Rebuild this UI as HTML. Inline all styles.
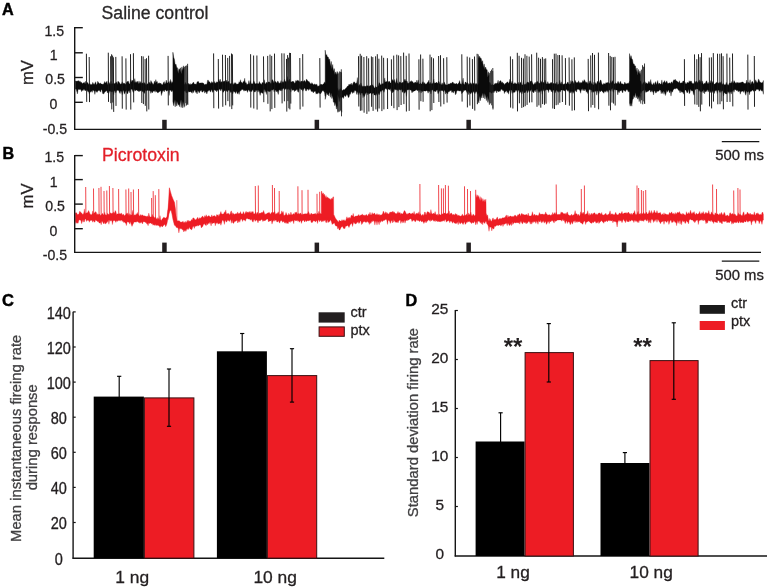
<!DOCTYPE html>
<html><head><meta charset="utf-8"><title>Figure</title>
<style>html,body{margin:0;padding:0;background:#fff;}body{width:767px;height:587px;overflow:hidden;}svg{display:block;will-change:transform;font-family:"Liberation Sans", sans-serif;}</style></head><body>
<svg width="767" height="587" viewBox="0 0 767 587">
<rect width="767" height="587" fill="#fff"/>
<text x="2" y="15.3" font-size="16.2" text-anchor="start" fill="#000" font-weight="bold" stroke="#000" stroke-width="0.45">A</text>
<text x="101.6" y="19" font-size="17.65" text-anchor="start" fill="#2a2829" font-weight="normal" stroke="#2a2829" stroke-width="0.3">Saline control</text>
<path d="M75.3 80.9L76 80.9L76.7 81.3L77.4 80.9L78.1 81.2L78.8 80.4L79.5 81.8L80.2 81.2L80.9 82.5L81.6 82.3L82.3 83.8L83 82.9L83.7 82.8L84.4 82.3L85.1 84L85.8 81.1L86.5 83.8L87.2 82.5L87.9 82.8L88.6 84.5L89.3 83.7L90 83.5L90.7 84.7L91.4 84.6L92.1 84.5L92.8 82.3L93.5 84L94.2 84.6L94.9 83.3L95.6 81.7L96.3 84.5L97 84.5L97.7 81.3L98.4 82.3L99.1 83.6L99.8 83.4L100.5 82.9L101.2 84.1L101.9 84.1L102.6 84.3L103.3 84.2L104 83.3L104.7 81.4L105.4 83L106.1 82.6L106.8 81.2L107.5 85.1L108.2 80.8L108.9 84.9L109.6 82.5L110.3 84.6L111 81.1L111.7 84.2L112.4 83.5L113.1 83.5L113.8 83.8L114.5 83.4L115.2 83.2L115.9 82.7L116.6 81.8L117.3 84.6L118 81.1L118.7 81.9L119.4 82.5L120.1 83.7L120.8 84.2L121.5 83.7L122.2 81.8L122.9 84.3L123.6 82.9L124.3 83.3L125 83.8L125.7 84.5L126.4 82.4L127.1 81.5L127.8 81.4L128.5 81.3L129.2 84.1L129.9 83.5L130.6 79.3L131.3 82.2L132 80L132.7 80.8L133.4 80.6L134.1 82.8L134.8 78.6L135.5 82.8L136.2 81.6L136.9 82.7L137.6 81.1L138.3 83.9L139 80.9L139.7 83.4L140.4 81.5L141.1 83.9L141.8 82.6L142.5 83.3L143.2 82.6L143.9 83.9L144.6 82.5L145.3 83.7L146 84.7L146.7 84.7L147.4 83.7L148.1 84L148.8 81.9L149.5 82.4L150.2 84L150.9 80.5L151.6 81.9L152.3 83.1L153 84.5L153.7 84.1L154.4 81.1L155.1 83.3L155.8 79.6L156.5 82.2L157.2 81.4L157.9 84.3L158.6 83L159.3 82.8L160 83.8L160.7 83L161.4 84.1L162.1 85L162.8 84.3L163.5 82.5L164.2 81.6L164.9 84.2L165.6 83.1L166.3 80.1L167 83L167.7 83.1L168.4 82.1L169.1 81.4L169.8 83.8L170.5 79.4L171.2 81.6L171.9 83.4L172.6 81.7L173.3 82.3L174 83.3L174.7 80.3L175.4 81.9L176.1 83.9L176.8 82.6L177.5 84.9L178.2 84.3L178.9 84.4L179.6 84.1L180.3 83.9L181 85L181.7 83.2L182.4 85.5L183.1 84L183.8 83.7L184.5 84.7L185.2 82.2L185.9 83.7L186.6 84.4L187.3 83L188 84.4L188.7 83.2L189.4 84.1L190.1 84.9L190.8 83.6L191.5 84.5L192.2 83.8L192.9 82.8L193.6 82.1L194.3 84.3L195 83.8L195.7 84.3L196.4 84.2L197.1 81.9L197.8 81.6L198.5 81.5L199.2 83.3L199.9 83.1L200.6 82.9L201.3 82.8L202 83.3L202.7 82.8L203.4 83.1L204.1 84.2L204.8 84.7L205.5 84.3L206.2 83.9L206.9 84.5L207.6 80.2L208.3 80.2L209 82.1L209.7 81.8L210.4 83.3L211.1 83.2L211.8 81.4L212.5 83L213.2 82L213.9 83.7L214.6 81.4L215.3 83.2L216 83.1L216.7 81.7L217.4 82.3L218.1 82L218.8 79.1L219.5 81.9L220.2 79.1L220.9 82.6L221.6 81.6L222.3 82.4L223 81L223.7 81.7L224.4 81.3L225.1 80.8L225.8 83.6L226.5 80.1L227.2 82.2L227.9 81.8L228.6 81.1L229.3 83L230 83.4L230.7 83.8L231.4 83.2L232.1 83.3L232.8 84.4L233.5 84.3L234.2 82.6L234.9 83.9L235.6 82.6L236.3 83.9L237 84.2L237.7 84L238.4 84L239.1 81.7L239.8 82.8L240.5 79.7L241.2 82.6L241.9 82.3L242.6 83.5L243.3 81.3L244 81.9L244.7 78.2L245.4 82.9L246.1 82.4L246.8 84.4L247.5 84.3L248.2 84L248.9 80.6L249.6 84.4L250.3 80.6L251 83L251.7 84.1L252.4 83.9L253.1 82.9L253.8 80.8L254.5 82.3L255.2 84L255.9 83.5L256.6 83.6L257.3 83.4L258 83.7L258.7 83.7L259.4 81.5L260.1 83.2L260.8 83.7L261.5 84.4L262.2 82.4L262.9 82.8L263.6 83.4L264.3 79.7L265 83.8L265.7 83.7L266.4 82.1L267.1 83.6L267.8 82.5L268.5 81.8L269.2 82.1L269.9 82.2L270.6 83.5L271.3 83.2L272 79.6L272.7 79.9L273.4 81.2L274.1 83.2L274.8 81.5L275.5 81.4L276.2 82.3L276.9 83.2L277.6 81L278.3 81.6L279 83.4L279.7 83L280.4 82.8L281.1 80.5L281.8 83.4L282.5 81.6L283.2 82.6L283.9 81.2L284.6 79.2L285.3 81.4L286 81.6L286.7 81.9L287.4 76.5L288.1 81.7L288.8 80.1L289.5 78.9L290.2 81.7L290.9 82.1L291.6 82L292.3 81L293 82.1L293.7 81.3L294.4 83.3L295.1 82.9L295.8 80.4L296.5 81.5L297.2 79.9L297.9 81L298.6 80.5L299.3 82.3L300 81L300.7 82.4L301.4 81L302.1 81.1L302.8 81.4L303.5 81.6L304.2 80.4L304.9 80.8L305.6 82.6L306.3 79.3L307 79.6L307.7 81.1L308.4 81.5L309.1 81.5L309.8 82.7L310.5 83.7L311.2 83.9L311.9 82.6L312.6 83.8L313.3 84.4L314 84.7L314.7 83.8L315.4 84.4L316.1 85L316.8 83.9L317.5 86.2L318.2 86.2L318.9 85.8L319.6 85.7L320.3 83.9L321 84.9L321.7 84L322.4 85.1L323.1 84.1L323.8 83.7L324.5 81.8L325.2 84L325.9 82.4L326.6 83.6L327.3 83L328 82.9L328.7 84.6L329.4 85.5L330.1 83.2L330.8 85.8L331.5 83.9L332.2 85.8L332.9 86.1L333.6 85.1L334.3 86.7L335 86L335.7 88.2L336.4 87.2L337.1 89.1L337.8 87.7L338.5 90.4L339.2 90.4L339.9 88.7L340.6 88.7L341.3 89.3L342 90.2L342.7 90.4L343.4 89.6L344.1 89.7L344.8 89.6L345.5 88.4L346.2 87.9L346.9 86.9L347.6 86L348.3 86.1L349 84.1L349.7 85.1L350.4 83.7L351.1 85.2L351.8 83.1L352.5 85.4L353.2 83L353.9 81.8L354.6 82.1L355.3 83.4L356 83.3L356.7 83L357.4 77.5L358.1 86.1L358.8 85.5L359.5 84.3L360.2 86.5L360.9 82.9L361.6 85L362.3 86.7L363 85.8L363.7 86.6L364.4 86.3L365.1 86L365.8 86.5L366.5 85.9L367.2 85.5L367.9 85.9L368.6 86.2L369.3 86.3L370 85.4L370.7 85.6L371.4 85.2L372.1 84.6L372.8 85.3L373.5 85.9L374.2 87.7L374.9 87.9L375.6 86.4L376.3 87.2L377 87.1L377.7 86.9L378.4 85.6L379.1 82.6L379.8 83.3L380.5 85L381.2 84.6L381.9 84.2L382.6 83.4L383.3 83.8L384 83.3L384.7 77.9L385.4 82.1L386.1 82.1L386.8 81.2L387.5 81.9L388.2 81.2L388.9 82.5L389.6 81L390.3 83L391 83L391.7 82.4L392.4 79.5L393.1 80.2L393.8 81.2L394.5 79.4L395.2 83.4L395.9 81.8L396.6 78.4L397.3 82.7L398 83.2L398.7 84L399.4 81.7L400.1 82.5L400.8 82.2L401.5 83.3L402.2 82.8L402.9 82L403.6 82.4L404.3 80.3L405 79L405.7 81.1L406.4 81.3L407.1 81L407.8 83.3L408.5 83.3L409.2 83.1L409.9 81.5L410.6 81.7L411.3 80.6L412 81.9L412.7 81.5L413.4 82.9L414.1 83.3L414.8 82.2L415.5 82L416.2 83.3L416.9 80L417.6 83.3L418.3 79.9L419 83.9L419.7 84.1L420.4 82.8L421.1 84.1L421.8 84.1L422.5 81.9L423.2 81.7L423.9 84L424.6 82.5L425.3 84L426 84.2L426.7 83.7L427.4 82.6L428.1 82.1L428.8 80.2L429.5 84.2L430.2 82.2L430.9 83.7L431.6 83.7L432.3 83.2L433 83.5L433.7 79L434.4 83.3L435.1 82.9L435.8 82.9L436.5 82.1L437.2 83.2L437.9 82.9L438.6 81L439.3 82.2L440 84.2L440.7 84.3L441.4 84.7L442.1 82.7L442.8 84.5L443.5 84.2L444.2 81.9L444.9 83.4L445.6 84.7L446.3 85L447 84.8L447.7 84.7L448.4 84.1L449.1 83.8L449.8 84.2L450.5 83L451.2 83.6L451.9 82.8L452.6 82.1L453.3 82.5L454 84.1L454.7 83.4L455.4 84.1L456.1 83.4L456.8 83.4L457.5 84.5L458.2 83.6L458.9 82.8L459.6 80.6L460.3 83.7L461 84.1L461.7 84.4L462.4 82.3L463.1 78.1L463.8 84L464.5 84.8L465.2 82.1L465.9 82.1L466.6 83.5L467.3 82.6L468 83L468.7 84.6L469.4 83.9L470.1 83.7L470.8 82.6L471.5 84.5L472.2 83L472.9 84.6L473.6 82.9L474.3 83.3L475 84.7L475.7 83.5L476.4 83.5L477.1 84.5L477.8 84.9L478.5 83.2L479.2 84.6L479.9 85.4L480.6 83.9L481.3 81L482 81.4L482.7 83.9L483.4 80.5L484.1 84.5L484.8 84.4L485.5 85.1L486.2 84.5L486.9 85.8L487.6 84.7L488.3 85.2L489 83.4L489.7 82L490.4 83.3L491.1 85L491.8 84.8L492.5 84.5L493.2 84.9L493.9 85.1L494.6 83.7L495.3 83.4L496 83.2L496.7 83.5L497.4 83.1L498.1 80.2L498.8 84L499.5 81.5L500.2 80.8L500.9 80.7L501.6 83L502.3 81.8L503 83.5L503.7 83L504.4 84.9L505.1 83.6L505.8 83.4L506.5 82.7L507.2 81.8L507.9 82.3L508.6 83.6L509.3 81.7L510 79L510.7 82.2L511.4 83.2L512.1 81L512.8 83.3L513.5 84.1L514.2 83.8L514.9 82.5L515.6 83.4L516.3 83.7L517 84L517.7 83.2L518.4 82.3L519.1 84.7L519.8 83.5L520.5 81.9L521.2 84L521.9 85L522.6 84.9L523.3 81.6L524 84.2L524.7 84.6L525.4 84L526.1 84.5L526.8 82.6L527.5 82.1L528.2 82.1L528.9 82.9L529.6 83.6L530.3 81.2L531 81L531.7 80.8L532.4 82.6L533.1 83.9L533.8 84.7L534.5 83.4L535.2 82.2L535.9 84L536.6 81.8L537.3 81.5L538 81.7L538.7 83.3L539.4 83.3L540.1 83.1L540.8 80.5L541.5 82L542.2 82.5L542.9 82.7L543.6 81.9L544.3 83.7L545 80.1L545.7 82L546.4 83.9L547.1 83.9L547.8 81.6L548.5 83.7L549.2 83.5L549.9 83.9L550.6 82.5L551.3 83.2L552 82L552.7 84.4L553.4 83.1L554.1 84.1L554.8 83.6L555.5 83.4L556.2 84.2L556.9 81.9L557.6 84.7L558.3 84.3L559 83.7L559.7 80.2L560.4 83L561.1 84.2L561.8 81.7L562.5 84L563.2 84.2L563.9 84.3L564.6 84L565.3 83L566 83.7L566.7 84L567.4 82.3L568.1 82.1L568.8 84.1L569.5 84.6L570.2 83.9L570.9 80.5L571.6 82.8L572.3 80.8L573 81.6L573.7 83.2L574.4 83.7L575.1 80.3L575.8 81.8L576.5 83L577.2 82.1L577.9 83.3L578.6 80.7L579.3 82.2L580 83.4L580.7 82.3L581.4 82.8L582.1 82.6L582.8 80.5L583.5 81.9L584.2 79.6L584.9 80.7L585.6 82.2L586.3 82.7L587 81.7L587.7 83.4L588.4 83.8L589.1 83.2L589.8 80.9L590.5 80.9L591.2 82.6L591.9 84.1L592.6 84.3L593.3 85L594 81.9L594.7 84.5L595.4 82.5L596.1 84.6L596.8 83L597.5 81L598.2 82.4L598.9 83.6L599.6 82.1L600.3 80.1L601 80.2L601.7 83.2L602.4 84.8L603.1 84.6L603.8 83.2L604.5 83.8L605.2 84.3L605.9 82.5L606.6 82.9L607.3 83L608 82L608.7 82.9L609.4 83.4L610.1 82.9L610.8 80.6L611.5 82.9L612.2 81.6L612.9 80.6L613.6 83L614.3 83.7L615 84L615.7 82.6L616.4 83.6L617.1 83.8L617.8 81.5L618.5 81.7L619.2 84.2L619.9 82.5L620.6 81.2L621.3 83.9L622 83.6L622.7 83.9L623.4 84.6L624.1 84.1L624.8 82.1L625.5 83.7L626.2 83.4L626.9 84L627.6 83.3L628.3 82.8L629 84L629.7 81L630.4 83.6L631.1 84L631.8 82.7L632.5 82.8L633.2 83.6L633.9 79.1L634.6 83.4L635.3 82.9L636 83.4L636.7 82.5L637.4 82.1L638.1 83.7L638.8 79.7L639.5 83.1L640.2 80.9L640.9 81.5L641.6 84.3L642.3 84.5L643 83L643.7 82.5L644.4 81.3L645.1 81.7L645.8 83.7L646.5 82.7L647.2 83.5L647.9 84L648.6 81.6L649.3 81.7L650 84L650.7 79.5L651.4 83.6L652.1 84.7L652.8 84.8L653.5 82.7L654.2 85.1L654.9 82.9L655.6 81.6L656.3 84.4L657 82.9L657.7 80.5L658.4 84.4L659.1 83.1L659.8 83.6L660.5 84.2L661.2 83.7L661.9 79.9L662.6 85L663.3 82.3L664 82L664.7 80.5L665.4 83L666.1 82.2L666.8 80.8L667.5 83.2L668.2 83.6L668.9 83.1L669.6 82.7L670.3 83.8L671 82.6L671.7 81.7L672.4 83.5L673.1 81.2L673.8 79.8L674.5 80.3L675.2 79.2L675.9 80.4L676.6 80.9L677.3 81.4L678 82L678.7 82.8L679.4 80.7L680.1 83.3L680.8 83.1L681.5 82.8L682.2 83.1L682.9 81.1L683.6 81.1L684.3 81.7L685 82L685.7 83.8L686.4 84.1L687.1 82.2L687.8 82.8L688.5 83L689.2 80.7L689.9 82.2L690.6 80.9L691.3 81L692 83.2L692.7 83.4L693.4 83.4L694.1 83.4L694.8 80.8L695.5 82.8L696.2 81L696.9 81.8L697.6 83.1L698.3 80.8L699 82.2L699.7 79.8L700.4 82.4L701.1 80.6L701.8 83.9L702.5 80.9L703.2 84.1L703.9 84.2L704.6 83.1L705.3 83.4L706 81.6L706.7 80.7L707.4 82.9L708.1 84L708.8 82.3L709.5 83.4L710.2 83.1L710.9 80.5L711.6 83.5L712.3 82.6L713 81.2L713.7 83.8L714.4 84.2L715.1 83.7L715.8 83L716.5 82.2L717.2 82.7L717.9 82.4L718.6 83.5L719.3 82.2L720 83.5L720.7 82.3L721.4 81.4L722.1 84.8L722.8 83.7L723.5 83.6L724.2 84.9L724.9 84.4L725.6 84.7L726.3 82.3L727 84L727.7 85.1L728.4 85.2L729.1 83.5L729.8 82.8L730.5 83.3L731.2 82.9L731.9 81.4L732.6 82.7L733.3 83.1L734 80.6L734.7 81.8L735.4 82.7L736.1 83.5L736.8 82.2L737.5 82.6L738.2 83.2L738.9 82.3L739.6 82.9L740.3 82.8L741 82.2L741.7 82.3L742.4 81.9L743.1 82L743.8 83.3L744.5 83.6L745.2 83L745.9 84.1L746.6 80.1L747.3 84L748 81.8L748.7 83.1L749.4 83.3L750.1 79.7L750.8 84.8L751.5 82.5L752.2 81.2L752.9 82L753.6 83.7L754.3 83.2L755 82.1L755.7 79.7L756.4 81.4L757.1 82.9L757.8 81.9L758.5 78.9L759.2 80.3L759.9 82.2L760.6 82.3L761.3 83L762 82.5L762.7 82.4L763.4 80.4L763.4 94.3L762.7 90.9L762 90.6L761.3 91.1L760.6 88.9L759.9 90.5L759.2 91.3L758.5 89.4L757.8 89.3L757.1 89.4L756.4 89.3L755.7 91L755 90.7L754.3 90.5L753.6 91.4L752.9 89.9L752.2 90.3L751.5 91.2L750.8 91.4L750.1 91.6L749.4 94.8L748.7 91.1L748 92L747.3 92.2L746.6 90.8L745.9 95.3L745.2 93.6L744.5 90.1L743.8 92.5L743.1 90.7L742.4 91.2L741.7 91.7L741 90.9L740.3 94.2L739.6 91L738.9 90.8L738.2 92.1L737.5 90.1L736.8 91L736.1 89.7L735.4 89.7L734.7 89.4L734 92.3L733.3 90L732.6 91.3L731.9 91.5L731.2 94.1L730.5 92L729.8 91.4L729.1 93.6L728.4 91.9L727.7 91.2L727 93.8L726.3 94L725.6 93.9L724.9 92.7L724.2 92.7L723.5 95.9L722.8 91.5L722.1 90.6L721.4 91.4L720.7 92.5L720 90.1L719.3 92.4L718.6 89.9L717.9 90.2L717.2 93.5L716.5 90.1L715.8 91.2L715.1 89.9L714.4 93.5L713.7 91.4L713 90.6L712.3 92.5L711.6 91.5L710.9 91.2L710.2 92.8L709.5 90.1L708.8 90.6L708.1 92.1L707.4 89.4L706.7 90.7L706 91.9L705.3 91.3L704.6 93.9L703.9 89.6L703.2 93.1L702.5 91L701.8 91.6L701.1 92.2L700.4 91.4L699.7 90L699 91.6L698.3 89.7L697.6 89L696.9 89L696.2 88.8L695.5 89.7L694.8 89.3L694.1 95.3L693.4 93.8L692.7 90.4L692 91.2L691.3 90.5L690.6 88.9L689.9 92.8L689.2 93.8L688.5 89.3L687.8 92.2L687.1 93.1L686.4 91.2L685.7 90L685 89.9L684.3 90.5L683.6 94.2L682.9 91.8L682.2 92.6L681.5 92L680.8 90.5L680.1 93L679.4 90.6L678.7 90.4L678 89.4L677.3 88.4L676.6 88.3L675.9 88.3L675.2 89.2L674.5 88.4L673.8 89.3L673.1 90.3L672.4 92.2L671.7 91.2L671 96.1L670.3 90.4L669.6 92.9L668.9 91L668.2 89.8L667.5 92.2L666.8 90.3L666.1 93.3L665.4 95.6L664.7 91.4L664 94.3L663.3 90.7L662.6 93.5L661.9 91.1L661.2 93.8L660.5 90.2L659.8 89.8L659.1 90.8L658.4 91.2L657.7 91.5L657 91L656.3 92.8L655.6 93.1L654.9 90.7L654.2 91L653.5 95L652.8 90.3L652.1 92.2L651.4 90.2L650.7 92.2L650 90.1L649.3 89.9L648.6 91.1L647.9 91.4L647.2 91.6L646.5 91.9L645.8 92.5L645.1 90.3L644.4 89.6L643.7 90.1L643 91L642.3 90.7L641.6 91.9L640.9 93.5L640.2 90.8L639.5 92.6L638.8 90.4L638.1 92.6L637.4 89.6L636.7 91.9L636 93.2L635.3 92.4L634.6 90L633.9 90.3L633.2 89.5L632.5 93.1L631.8 90.8L631.1 91.5L630.4 90.8L629.7 92.1L629 90.4L628.3 92.2L627.6 90L626.9 89.4L626.2 90L625.5 91.6L624.8 91.2L624.1 90.3L623.4 89.9L622.7 93L622 91.5L621.3 89.9L620.6 90.9L619.9 90.8L619.2 92.7L618.5 90.9L617.8 94.9L617.1 90.1L616.4 90.1L615.7 89.8L615 89.9L614.3 89.3L613.6 92.5L612.9 91.3L612.2 88.3L611.5 89.5L610.8 91.4L610.1 90.4L609.4 89.8L608.7 90.8L608 92.4L607.3 90.7L606.6 90.4L605.9 92.3L605.2 90.9L604.5 91.6L603.8 93.3L603.1 92.2L602.4 91.8L601.7 90.5L601 91.2L600.3 91.7L599.6 90.6L598.9 93.6L598.2 90.8L597.5 91L596.8 95.2L596.1 90.6L595.4 91.5L594.7 91.2L594 91.3L593.3 92.4L592.6 91.1L591.9 92.4L591.2 89.9L590.5 89.7L589.8 89.6L589.1 89.7L588.4 91.7L587.7 93.6L587 90.9L586.3 92.3L585.6 89.7L584.9 89L584.2 91L583.5 90.3L582.8 88.4L582.1 90.6L581.4 88.7L580.7 93.3L580 90.8L579.3 89.7L578.6 89.3L577.9 89.5L577.2 89L576.5 92.1L575.8 91.2L575.1 90.3L574.4 90.9L573.7 92.1L573 93.5L572.3 91.4L571.6 91.6L570.9 93.2L570.2 91.6L569.5 93.2L568.8 90L568.1 91.5L567.4 90.8L566.7 89.6L566 89.5L565.3 91.6L564.6 90.8L563.9 90.7L563.2 90.1L562.5 90L561.8 90L561.1 90.1L560.4 91.8L559.7 91.7L559 90.8L558.3 92.4L557.6 91.4L556.9 90.4L556.2 90.1L555.5 92.2L554.8 93.3L554.1 90.3L553.4 89.9L552.7 92.7L552 90.2L551.3 91.9L550.6 89.7L549.9 89.7L549.2 89.3L548.5 92.6L547.8 89.8L547.1 90L546.4 89.6L545.7 90.2L545 90.2L544.3 91.7L543.6 90.5L542.9 89.1L542.2 94.2L541.5 90L540.8 91.5L540.1 90.6L539.4 92.5L538.7 90.7L538 92.8L537.3 89.5L536.6 89L535.9 91.9L535.2 90L534.5 90.7L533.8 93L533.1 92L532.4 91.8L531.7 89.3L531 90L530.3 91.1L529.6 92.3L528.9 90L528.2 91.5L527.5 93L526.8 89.9L526.1 91.2L525.4 92.5L524.7 92.4L524 93.1L523.3 90.8L522.6 91.7L521.9 94.1L521.2 91.4L520.5 91.9L519.8 93.3L519.1 90.7L518.4 90.1L517.7 92.1L517 91.4L516.3 90.1L515.6 90.5L514.9 92.4L514.2 92.1L513.5 92.7L512.8 91.1L512.1 93.4L511.4 90.3L510.7 89.6L510 90.6L509.3 90.5L508.6 94.2L507.9 91.5L507.2 92.8L506.5 90.5L505.8 91.4L505.1 91.7L504.4 93.6L503.7 90.3L503 91L502.3 89.7L501.6 89.3L500.9 89.6L500.2 91.5L499.5 90.9L498.8 91.9L498.1 91.3L497.4 90.7L496.7 93L496 90.3L495.3 91.2L494.6 90.9L493.9 92.9L493.2 91.3L492.5 92.3L491.8 93.2L491.1 93.1L490.4 92.1L489.7 92L489 92.5L488.3 92.6L487.6 95.9L486.9 93L486.2 94.3L485.5 91.6L484.8 92.7L484.1 94.4L483.4 92.4L482.7 93.2L482 90.8L481.3 91.8L480.6 93.8L479.9 94.4L479.2 94.2L478.5 92.4L477.8 94.4L477.1 92.8L476.4 91.5L475.7 91.8L475 93.8L474.3 93.1L473.6 91.2L472.9 92.6L472.2 93.3L471.5 92L470.8 94.2L470.1 93L469.4 92.2L468.7 94.7L468 90.8L467.3 93.3L466.6 91.8L465.9 90.3L465.2 90.1L464.5 90.5L463.8 90.6L463.1 92.2L462.4 92.7L461.7 93.7L461 90.5L460.3 91.1L459.6 91.1L458.9 90.7L458.2 90.8L457.5 90.6L456.8 90.9L456.1 93.9L455.4 94.8L454.7 90.9L454 91.1L453.3 93.1L452.6 91.6L451.9 92.6L451.2 90.2L450.5 90.7L449.8 90.7L449.1 91.9L448.4 91.4L447.7 94L447 93L446.3 92.4L445.6 94.2L444.9 90.6L444.2 90.6L443.5 92L442.8 90.4L442.1 90.7L441.4 90.5L440.7 90.5L440 90.5L439.3 91.4L438.6 93.2L437.9 93.7L437.2 89.7L436.5 90.3L435.8 91.9L435.1 91.1L434.4 91.2L433.7 91.4L433 90.6L432.3 89.7L431.6 89.9L430.9 94L430.2 90.3L429.5 91.7L428.8 91.1L428.1 93.2L427.4 91.1L426.7 90.4L426 91.2L425.3 91L424.6 91L423.9 91.1L423.2 90.8L422.5 91.7L421.8 90.8L421.1 93.1L420.4 90.2L419.7 90L419 92.6L418.3 89.8L417.6 90.9L416.9 89.5L416.2 90.2L415.5 90.2L414.8 90.9L414.1 90.9L413.4 91.6L412.7 91.4L412 92.9L411.3 90.5L410.6 90.1L409.9 89.8L409.2 89.5L408.5 89.7L407.8 89.7L407.1 90.3L406.4 96.4L405.7 91L405 92.8L404.3 93.3L403.6 89.9L402.9 92.5L402.2 91.8L401.5 89.2L400.8 89.7L400.1 90.2L399.4 89.5L398.7 89.5L398 91.3L397.3 89.8L396.6 89.9L395.9 89L395.2 90.2L394.5 88.7L393.8 91.9L393.1 91.4L392.4 92.9L391.7 88.7L391 91.5L390.3 88.6L389.6 89.9L388.9 89.3L388.2 89.1L387.5 90.3L386.8 89.6L386.1 88.4L385.4 88.4L384.7 89.7L384 92.4L383.3 90.5L382.6 90.1L381.9 90.8L381.2 91.6L380.5 90.9L379.8 93.5L379.1 94.9L378.4 93.8L377.7 92.6L377 95.5L376.3 93.5L375.6 95.2L374.9 95.1L374.2 94.9L373.5 93.1L372.8 93.1L372.1 94.2L371.4 94.4L370.7 92.9L370 92.9L369.3 94L368.6 92.9L367.9 95.1L367.2 93.2L366.5 92.3L365.8 93.2L365.1 94.8L364.4 96.7L363.7 95.1L363 97.8L362.3 93.2L361.6 92.9L360.9 93.3L360.2 95.2L359.5 92.8L358.8 92.5L358.1 94.8L357.4 91.6L356.7 94.5L356 90.8L355.3 90.7L354.6 90.6L353.9 93.1L353.2 91.4L352.5 93.5L351.8 91.8L351.1 91.7L350.4 94.2L349.7 94.2L349 97.3L348.3 97.5L347.6 95.4L346.9 94.2L346.2 95.5L345.5 96.8L344.8 95.2L344.1 96.2L343.4 98.6L342.7 96.7L342 97.9L341.3 98.4L340.6 96.7L339.9 98.1L339.2 101.7L338.5 97.7L337.8 95.4L337.1 94.6L336.4 94.8L335.7 94L335 93.4L334.3 94.1L333.6 94.5L332.9 96.1L332.2 92.6L331.5 92.2L330.8 92.5L330.1 91.2L329.4 92.9L328.7 91.5L328 92.3L327.3 91.9L326.6 93.2L325.9 90.4L325.2 96L324.5 92.2L323.8 91.6L323.1 90.5L322.4 90.7L321.7 91.9L321 93.3L320.3 94L319.6 93L318.9 93.4L318.2 92.3L317.5 93.9L316.8 93.3L316.1 94.2L315.4 91.3L314.7 91.4L314 91.4L313.3 93L312.6 91.4L311.9 91.3L311.2 91.5L310.5 89L309.8 89.7L309.1 88.4L308.4 90.5L307.7 89L307 89L306.3 91.1L305.6 90.8L304.9 88L304.2 88.6L303.5 89.8L302.8 91.3L302.1 89.1L301.4 90.1L300.7 88.9L300 88.6L299.3 88.6L298.6 92.2L297.9 91.9L297.2 89.6L296.5 89.4L295.8 90.9L295.1 90.1L294.4 91.7L293.7 89.7L293 90.2L292.3 90.3L291.6 88.3L290.9 92.2L290.2 88.4L289.5 90.2L288.8 88.6L288.1 89.2L287.4 89.4L286.7 88.7L286 88.5L285.3 89.2L284.6 89.9L283.9 88.6L283.2 88.6L282.5 89.2L281.8 91L281.1 89L280.4 91.1L279.7 89.9L279 89.8L278.3 94.5L277.6 92.3L276.9 90.4L276.2 92L275.5 90.2L274.8 89.8L274.1 92.1L273.4 88.8L272.7 90.3L272 89.7L271.3 90.1L270.6 90.9L269.9 91.9L269.2 91.3L268.5 91.6L267.8 91L267.1 90.6L266.4 94.5L265.7 90.3L265 92.4L264.3 89.5L263.6 89.8L262.9 93.5L262.2 93L261.5 92.6L260.8 92.7L260.1 95.4L259.4 92L258.7 90L258 92.2L257.3 89.9L256.6 90.6L255.9 90.2L255.2 92.1L254.5 91.9L253.8 91.3L253.1 89.5L252.4 90.3L251.7 91.8L251 91L250.3 91.4L249.6 91.4L248.9 89.8L248.2 90.2L247.5 92.4L246.8 90.4L246.1 90.2L245.4 90.9L244.7 90L244 91.3L243.3 89.7L242.6 89.4L241.9 89.2L241.2 90.4L240.5 90.8L239.8 91.6L239.1 94.4L238.4 91.7L237.7 94.1L237 92.8L236.3 91L235.6 93.6L234.9 92L234.2 91.8L233.5 91.3L232.8 94L232.1 92.8L231.4 91.7L230.7 92.6L230 91.2L229.3 90.1L228.6 90.1L227.9 91.2L227.2 91.9L226.5 91L225.8 90.1L225.1 91L224.4 90.5L223.7 91.8L223 92.4L222.3 89.6L221.6 88.7L220.9 91.1L220.2 89.6L219.5 89.1L218.8 90.3L218.1 91.3L217.4 89.7L216.7 91.9L216 90L215.3 90.8L214.6 89.7L213.9 89.9L213.2 92.1L212.5 92.3L211.8 89.6L211.1 90.7L210.4 92.2L209.7 90.6L209 90L208.3 91.2L207.6 91.3L206.9 94L206.2 92.3L205.5 91.5L204.8 93.2L204.1 90.5L203.4 91.1L202.7 91.9L202 92.2L201.3 89.9L200.6 90.8L199.9 91.6L199.2 93.1L198.5 91.6L197.8 90.4L197.1 94L196.4 92L195.7 92.4L195 90.1L194.3 90.5L193.6 92.7L192.9 90.6L192.2 93.3L191.5 92.6L190.8 91.4L190.1 91.9L189.4 91.9L188.7 91.2L188 92.6L187.3 92.5L186.6 93L185.9 92.2L185.2 90.5L184.5 91L183.8 91.7L183.1 91L182.4 94.3L181.7 93L181 91.2L180.3 90.6L179.6 92.5L178.9 91.9L178.2 90.3L177.5 95.4L176.8 91.5L176.1 91.2L175.4 92.8L174.7 90.3L174 91.2L173.3 91.1L172.6 90.3L171.9 92L171.2 90.8L170.5 90.3L169.8 89.9L169.1 95.5L168.4 89.9L167.7 90.4L167 90.7L166.3 91.2L165.6 89.7L164.9 90L164.2 91.9L163.5 90.5L162.8 90.7L162.1 93L161.4 95.6L160.7 90.4L160 91.3L159.3 91.7L158.6 92.2L157.9 93.1L157.2 92.2L156.5 91.8L155.8 90.3L155.1 92.3L154.4 90.7L153.7 91.1L153 91.4L152.3 93L151.6 91L150.9 93.4L150.2 90.9L149.5 90.5L148.8 91.1L148.1 90.3L147.4 90.3L146.7 91.1L146 90.8L145.3 90.3L144.6 93.4L143.9 92.8L143.2 91.4L142.5 91.8L141.8 90.6L141.1 90.4L140.4 91L139.7 90.8L139 91.9L138.3 90.7L137.6 90.9L136.9 90L136.2 90L135.5 91.1L134.8 89.6L134.1 91L133.4 92.7L132.7 91.2L132 89.3L131.3 89.2L130.6 89.3L129.9 92.9L129.2 90.5L128.5 90.9L127.8 93.5L127.1 93.7L126.4 90.3L125.7 91.2L125 92.8L124.3 94.2L123.6 90.7L122.9 90.6L122.2 94.7L121.5 91.8L120.8 90.8L120.1 93.6L119.4 92.5L118.7 90.5L118 90.4L117.3 90.3L116.6 90.7L115.9 93.1L115.2 91.6L114.5 90.5L113.8 94.6L113.1 91.8L112.4 91.4L111.7 91.9L111 91.5L110.3 91.3L109.6 91L108.9 93.4L108.2 92.2L107.5 93L106.8 90.5L106.1 91.3L105.4 91.6L104.7 91.9L104 93.7L103.3 93.8L102.6 93.5L101.9 89.7L101.2 89.7L100.5 92.2L99.8 91.1L99.1 90.3L98.4 90.5L97.7 91.3L97 92.5L96.3 91.5L95.6 90.6L94.9 94.4L94.2 91L93.5 90.6L92.8 90.2L92.1 92.4L91.4 90.8L90.7 91.7L90 92.5L89.3 94L88.6 91.5L87.9 91.8L87.2 90.4L86.5 89.9L85.8 90.2L85.1 90.9L84.4 89.6L83.7 89.3L83 90.7L82.3 89.9L81.6 91.7L80.9 89.6L80.2 89.5L79.5 89.5L78.8 89.3L78.1 89.7L77.4 94L76.7 91.3L76 88.7L75.3 89.2Z" fill="#0a0a0a" stroke="#0a0a0a" stroke-width="0.3" stroke-linejoin="round"/>
<path d="M86.4 53.7L86.7 101.9M89.2 57L89.5 102.1M108.3 52.7L108.5 101.9M110.6 56.3L110.8 103.2M111.6 54.3L111.8 109.4M112.6 55.6L112.8 102.6M113.4 57.3L113.7 111.9M115.8 56.9L116 105.9M122.1 56.3L122.3 108.7M125.9 58.4L126.2 109.6M130.5 54.2L130.8 109.6M133.4 53.2L133.7 102.4M141.6 56.1L141.8 103M143.2 56.4L143.4 104.1M145.1 59.1L145.3 105.8M146.5 58.2L146.8 111.4M148.6 55.7L148.8 109.5M168.1 55.9L168.3 105.4M213.6 53.4L213.8 108.2M218.3 59L218.6 108.6M222.5 54.7L222.8 106.8M225.4 55L225.7 105.3M227.7 57.9L227.9 101.1M229.6 55.9L229.8 106.6M231.5 53.5L231.8 109.1M232.4 54.3L232.7 105.4M250.6 54.2L250.8 107.6M253.6 55.5L253.8 108.5M256.9 55.5L257.1 109.6M263.5 56.4L263.8 102.2M267.7 55.9L267.9 103.8M270 54.6L270.2 111.4M271.7 55.9L271.9 109.1M274.5 53.6L274.8 107.9M281.8 53.3L282.1 103.4M284.1 53.4L284.4 101.3M286.5 58.9L286.8 111.6M287.6 55.1L287.9 101.1M288.6 57.6L288.9 108.3M289.6 52.8L289.9 109.4M290.5 53L290.8 103.6M299.8 58L300.1 109.4M302.7 54.1L302.9 106.6M319.8 58.1L320.1 107.6M358.5 56.2L358.8 106.5M360.2 53.8L360.4 110.8M361.6 55.7L361.9 110.5M363.9 57L364.1 112.7M366.7 56.2L366.9 113.9M368.6 58.3L368.9 111.5M371.4 56.4L371.6 106.8M372.8 57.1L373.1 110.9M375.6 56.3L375.9 109.4M377.3 54.2L377.6 111.6M378.9 58.7L379.1 108.5M381.7 55.6L381.9 111.1M383.6 57.8L383.9 109.4M387.4 58.2L387.6 109M391.4 59.3L391.6 105.9M393.7 55.6L393.9 108.2M396.8 54.7L397.1 110.1M398.6 55.4L398.9 107.1M400.8 56.1L401.1 105M403.6 52.6L403.9 104.1M406.2 55.8L406.4 111.5M409 53.5L409.2 110.9M418.9 59.3L419.1 109.7M420.6 54.5L420.9 101.2M422.9 58.7L423.1 101.8M430 54.6L430.2 111.3M431.6 57.2L431.9 110.1M433.5 58.3L433.8 103M438.6 56L438.9 102M440.5 55.2L440.8 106.5M443.6 58.2L443.9 104.2M446.8 57.2L447.1 102.6M461.8 54.3L462.1 101.6M467.2 56.6L467.4 107.4M469.7 57.5L469.9 105.6M472.4 59.1L472.6 108.9M474.5 56.5L474.8 110.6M477.1 53.8L477.4 104.2M510.4 56.4L510.6 107.6M512.6 59.2L512.9 108.5M517.3 52.8L517.5 111.4M519.1 55.8L519.4 103.3M521.5 57.8L521.8 107.9M523.4 58.5L523.6 107.1M525 54.3L525.2 106.2M526.9 55.8L527.1 104.9M529.2 56.6L529.5 102.6M531.6 54.3L531.9 102.3M536.7 52.7L537 106.8M538.6 57.7L538.9 105.4M540.5 58.8L540.8 107.7M542.4 57.1L542.6 104.1M544.2 58.8L544.5 104.8M545.7 58.4L546 103.7M552.5 59.2L552.8 108.5M554.3 53.7L554.5 109M556 53.6L556.2 105.2M557.9 55.1L558.1 104.7M559.5 55L559.8 102.8M562.1 55.3L562.4 102M565.4 58.1L565.6 104.9M569.1 57.5L569.4 105.7M571.9 59.3L572.1 110.7M574.3 57.4L574.5 110.3M588.2 58.9L588.5 111.2M590.7 55.4L591 107.5M592.5 53L592.8 105M594.5 54.8L594.8 107.8M598.4 52.6L598.6 109.3M608.6 53L608.9 105.7M610.2 55.9L610.5 110.3M611.8 56.9L612 102.6M613.4 57.2L613.6 103.6M615 56.8L615.2 105.5M684.4 59.2L684.6 105.9M694.5 54.4L694.8 104.4M696.8 59.2L697 104.8M698.5 54.2L698.8 106.9M700.1 57.2L700.4 111.3M701.5 53.1L701.8 104.6M709.3 57.6L709.5 106.4M711.4 57.3L711.6 108.4M713.3 53.1L713.5 101.6M717.5 53.7L717.8 104.3M719.8 53.8L720 104.2M721.5 53.3L721.8 101.3M723.1 56.2L723.4 109.3M726.9 53.6L727.1 102M729.7 57.6L730 101.9M732.5 53.5L732.8 106.4M747.8 54.6L748 109.6M754.3 56L754.5 106.8" fill="none" stroke="#161616" stroke-width="0.95"/>
<path d="M172.9 52.3L173.7 57.4L174.4 59.3L175.2 65.2L175.9 64L176.7 67.5L177.4 67.8L178.2 73.4L178.9 68.7L179.7 69.7L180.4 67.8L181.2 74L181.9 66.9L182.7 70.7L183.4 65.8L184.2 69.8L184.2 107.3L183.4 101.5L182.7 107.9L181.9 99.8L181.2 107.5L180.4 99.6L179.7 106.7L178.9 103.8L178.2 105.2L177.4 101.5L176.7 106.1L175.9 99.9L175.2 106.8L174.4 99.5L173.7 105.7L172.9 101.4ZM325.2 50.2L325.9 55.6L326.7 54.6L327.4 57.1L328.2 57.1L328.9 59.4L329.7 59.2L330.4 66.6L331.2 61.4L331.9 69.1L332.7 64.5L333.4 71.6L334.2 68.6L334.9 74.4L335.7 71.9L336.4 75.1L337.2 71.5L337.9 74.3L337.9 112.4L337.2 105.2L336.4 109.1L335.7 102.2L334.9 105.7L334.2 102.2L333.4 102.1L332.7 95.5L331.9 98.6L331.2 93.1L330.4 97.3L329.7 88.9L328.9 96L328.2 93.9L327.4 94.7L326.7 91.4L325.9 96.5L325.2 99.4ZM478.1 54.3L478.9 58.6L479.6 56.2L480.4 58.3L481.1 58.2L481.9 61.9L482.6 60.7L483.4 67.7L484.1 63.9L484.9 69.6L485.6 67L486.4 69.8L487.1 69.7L487.9 77.6L488.6 71.8L489.4 75.2L489.4 104.8L488.6 98.1L487.9 102.4L487.1 95.9L486.4 100.6L485.6 93.9L484.9 98.9L484.1 91.4L483.4 97.9L482.6 92.5L481.9 98L481.1 95.2L480.4 100.7L479.6 95.5L478.9 102.9L478.1 100.3ZM629.5 53.6L630.2 58.7L631 55.6L631.8 59.1L632.5 59.6L633.2 64.2L634 63.8L634.8 66.1L635.5 65.9L636.2 71.9L637 68L637.8 75.4L638.5 69.5L639.2 73.9L640 70.9L640.8 75L640.8 103.6L640 95.3L639.2 101.6L638.5 96.4L637.8 99.2L637 95.2L636.2 97.8L635.5 92.1L634.8 97.5L634 95.1L633.2 98.9L632.5 99.7L631.8 106.2L631 102.7L630.2 106.2L629.5 103.1Z" fill="#0a0a0a" stroke="#0a0a0a" stroke-width="0.4"/>
<path d="M184.6 66.7L184.8 106.3M185.6 66.1L185.8 103.2M186.3 65.4L186.5 105.5M187.4 65.8L187.6 103.9M187.6 63.8L187.8 105M338 73.9L338.2 111.5M338.9 72.6L339.1 111.8M339.7 71.4L339.9 111.3M340.4 71.9L340.6 110.5M341.5 72.3L341.7 112.3M341.3 69.3L341.5 116.3M489.8 73L490 103.6M490.6 71.1L490.8 103.2M491.5 69.6L491.7 105.3M492.7 71L492.9 108.3M492.8 68L493 109.5M641.4 69.6L641.6 100.3M642.5 65.2L642.7 104.3M643.6 66.8L643.8 101.4M644.3 66.6L644.5 103.3M644.5 63.5L644.7 104" fill="none" stroke="#1a1a1a" stroke-width="0.85"/>
<line x1="74.7" y1="27" x2="74.7" y2="129.9" stroke="#151515" stroke-width="1.4"/>
<line x1="74.7" y1="129.3" x2="761" y2="129.3" stroke="#151515" stroke-width="1.3"/>
<line x1="74.7" y1="27.7" x2="82.8" y2="27.7" stroke="#151515" stroke-width="1.4"/>
<line x1="74.7" y1="52.8" x2="82.8" y2="52.8" stroke="#151515" stroke-width="1.4"/>
<line x1="74.7" y1="77.5" x2="82.8" y2="77.5" stroke="#151515" stroke-width="1.4"/>
<line x1="74.7" y1="102.3" x2="82.8" y2="102.3" stroke="#151515" stroke-width="1.4"/>
<text transform="translate(44.5 35.5) scale(0.93 1)" font-size="15.2" text-anchor="start" fill="#231f20" font-weight="normal" stroke="#231f20" stroke-width="0.3">1.5</text>
<text transform="translate(49.7 59.8) scale(0.93 1)" font-size="15.2" text-anchor="start" fill="#231f20" font-weight="normal" stroke="#231f20" stroke-width="0.3">1</text>
<text transform="translate(45.3 83.8) scale(0.93 1)" font-size="15.2" text-anchor="start" fill="#231f20" font-weight="normal" stroke="#231f20" stroke-width="0.3">0.5</text>
<text transform="translate(49.6 109) scale(0.93 1)" font-size="15.2" text-anchor="start" fill="#231f20" font-weight="normal" stroke="#231f20" stroke-width="0.3">0</text>
<text transform="translate(42.8 133.8) scale(0.93 1)" font-size="15.2" text-anchor="start" fill="#231f20" font-weight="normal" stroke="#231f20" stroke-width="0.3">-0.5</text>
<text transform="translate(32.8 72.6) rotate(-90)" font-size="16.7" text-anchor="middle" fill="#231f20" stroke="#231f20" stroke-width="0.3">mV</text>
<rect x="162.2" y="119.8" width="4.5" height="9.5" fill="#231f20"/>
<rect x="314.6" y="119.8" width="4.5" height="9.5" fill="#231f20"/>
<rect x="466.4" y="119.8" width="4.5" height="9.5" fill="#231f20"/>
<rect x="621.8" y="119.8" width="4.5" height="9.5" fill="#231f20"/>
<line x1="721.8" y1="141.6" x2="759.3" y2="141.6" stroke="#151515" stroke-width="1.3"/>
<text x="715.2" y="159.5" font-size="14.85" text-anchor="start" fill="#231f20" font-weight="normal" stroke="#231f20" stroke-width="0.3">500 ms</text>
<text x="2.5" y="158.8" font-size="16.2" text-anchor="start" fill="#000" font-weight="bold" stroke="#000" stroke-width="0.45">B</text>
<text x="102" y="161.3" font-size="17.7" text-anchor="start" fill="#e31f29" font-weight="normal" stroke="#e31f29" stroke-width="0.3">Picrotoxin</text>
<path d="M75.3 212.8L76 212.9L76.7 212.7L77.4 214.8L78.1 214.1L78.8 214.6L79.5 211.5L80.2 211.6L80.9 212.4L81.6 213.1L82.3 214L83 214.4L83.7 213.2L84.4 208.9L85.1 213.9L85.8 212.7L86.5 213L87.2 213.1L87.9 211.9L88.6 210.5L89.3 212.1L90 213.9L90.7 214.4L91.4 214.8L92.1 213.9L92.8 210.8L93.5 214.5L94.2 212.8L94.9 212.8L95.6 211.6L96.3 212.6L97 215L97.7 213.7L98.4 214.8L99.1 213.9L99.8 214.3L100.5 215.5L101.2 214.9L101.9 214.1L102.6 213.3L103.3 215L104 214.6L104.7 212.3L105.4 214.8L106.1 215.1L106.8 215.2L107.5 213.2L108.2 214.1L108.9 214.5L109.6 214.8L110.3 212.7L111 213.2L111.7 213.5L112.4 213L113.1 213.5L113.8 211.8L114.5 213.5L115.2 210.5L115.9 211.6L116.6 214.4L117.3 214.1L118 213.7L118.7 213.9L119.4 213.4L120.1 214.1L120.8 213.5L121.5 213.1L122.2 215.2L122.9 214.2L123.6 214.3L124.3 215.7L125 215.3L125.7 214.8L126.4 213.2L127.1 214.5L127.8 212.8L128.5 215.8L129.2 213.5L129.9 215.8L130.6 214.4L131.3 215.1L132 215L132.7 210.3L133.4 215.8L134.1 215.2L134.8 214.8L135.5 215.3L136.2 213.6L136.9 214.7L137.6 212.4L138.3 214.7L139 215.3L139.7 216.3L140.4 214.4L141.1 216L141.8 214.8L142.5 215L143.2 215.5L143.9 216.1L144.6 215.8L145.3 216.2L146 216.1L146.7 216.7L147.4 215.8L148.1 217.3L148.8 213.1L149.5 216.1L150.2 216.9L150.9 216.9L151.6 217.1L152.3 214.3L153 217.2L153.7 216.3L154.4 218.1L155.1 217L155.8 218.2L156.5 219.2L157.2 217.5L157.9 219.5L158.6 218.3L159.3 220.1L160 215.6L160.7 219.7L161.4 220.4L162.1 218.9L162.8 218.6L163.5 217.3L164.2 217.8L164.9 217.6L165.6 218.3L166.3 217.5L167 216.3L167.7 210.6L168.4 208.1L169.1 201.7L169.8 197.7L170.5 195.6L171.2 200.2L171.9 202.4L172.6 206L173.3 208.3L174 208.7L174.7 212.8L175.4 216.9L176.1 218.9L176.8 221.6L177.5 220.8L178.2 221L178.9 220.6L179.6 221L180.3 222.3L181 221.7L181.7 222.3L182.4 221.7L183.1 221.2L183.8 222.8L184.5 222.5L185.2 221.3L185.9 222.8L186.6 222L187.3 220.3L188 222L188.7 220.3L189.4 221.2L190.1 221.3L190.8 221L191.5 219.5L192.2 220.2L192.9 217.9L193.6 217.9L194.3 218.5L195 219.7L195.7 219.7L196.4 219.3L197.1 218.2L197.8 217.2L198.5 219.2L199.2 218.5L199.9 217.6L200.6 218.6L201.3 217.5L202 216.6L202.7 216.1L203.4 217.3L204.1 217.7L204.8 215.6L205.5 216.9L206.2 214.7L206.9 216.7L207.6 216.5L208.3 215.9L209 215.5L209.7 216.6L210.4 216.9L211.1 217L211.8 214.8L212.5 217L213.2 215.8L213.9 216.3L214.6 215.4L215.3 216.2L216 217.2L216.7 214.6L217.4 215.3L218.1 214.5L218.8 216.5L219.5 214.4L220.2 213.5L220.9 211.5L221.6 213.9L222.3 214.2L223 213.8L223.7 214L224.4 211.9L225.1 212.4L225.8 209.9L226.5 214.3L227.2 213.4L227.9 213.8L228.6 213.2L229.3 214.4L230 214.4L230.7 211.7L231.4 210.8L232.1 214.7L232.8 212.7L233.5 213.8L234.2 214.2L234.9 214.2L235.6 213.8L236.3 213.4L237 214.1L237.7 211.9L238.4 213.9L239.1 213L239.8 213.8L240.5 211.6L241.2 213.7L241.9 214L242.6 214L243.3 211.6L244 212.9L244.7 214.6L245.4 212.5L246.1 211.3L246.8 212.7L247.5 212.3L248.2 211.8L248.9 213L249.6 211.4L250.3 213.3L251 211.3L251.7 213.1L252.4 211.7L253.1 211.4L253.8 213.9L254.5 214L255.2 212.8L255.9 212.2L256.6 214.4L257.3 212.1L258 213.5L258.7 214.7L259.4 213.1L260.1 213.3L260.8 212.9L261.5 212.5L262.2 212.6L262.9 212.6L263.6 210.5L264.3 212.7L265 214.8L265.7 213.8L266.4 213.9L267.1 213.2L267.8 212.9L268.5 212.8L269.2 212.3L269.9 213.4L270.6 214.2L271.3 212.7L272 212.3L272.7 212.6L273.4 212.8L274.1 211.9L274.8 211.5L275.5 214.5L276.2 213.5L276.9 213.7L277.6 213.1L278.3 211.7L279 213.8L279.7 215.1L280.4 213.9L281.1 213.7L281.8 210.8L282.5 212.9L283.2 211.5L283.9 215.4L284.6 215.3L285.3 215.1L286 212.4L286.7 214.2L287.4 215.3L288.1 215.3L288.8 213.2L289.5 214.7L290.2 215L290.9 212.1L291.6 214.4L292.3 215L293 213.7L293.7 213.7L294.4 214.6L295.1 212L295.8 213.3L296.5 211.8L297.2 214.3L297.9 213.4L298.6 213.6L299.3 214.2L300 213.1L300.7 213.2L301.4 214.3L302.1 214.9L302.8 213.7L303.5 214.3L304.2 214.1L304.9 213.7L305.6 213.8L306.3 213.9L307 213.4L307.7 213.4L308.4 211.5L309.1 213L309.8 214.8L310.5 214.4L311.2 213L311.9 214.1L312.6 214.2L313.3 214L314 214.1L314.7 213.7L315.4 213.3L316.1 214.8L316.8 213.7L317.5 213.3L318.2 214.1L318.9 211.2L319.6 213.8L320.3 213.2L321 214L321.7 214L322.4 213.9L323.1 212.6L323.8 215.1L324.5 214.3L325.2 213.8L325.9 214.7L326.6 213.3L327.3 214L328 211.9L328.7 214.7L329.4 213.8L330.1 212.8L330.8 213.8L331.5 214.5L332.2 214.9L332.9 215.6L333.6 214.9L334.3 215.4L335 217.2L335.7 218.4L336.4 219.4L337.1 220.2L337.8 221.3L338.5 222.3L339.2 220L339.9 220.9L340.6 221.1L341.3 221.2L342 219.6L342.7 221L343.4 220.2L344.1 219.6L344.8 220.9L345.5 220.8L346.2 218.9L346.9 216.7L347.6 218.8L348.3 217.4L349 218.7L349.7 217.2L350.4 218.5L351.1 215.5L351.8 215.2L352.5 216.3L353.2 213.4L353.9 216.7L354.6 216.9L355.3 216L356 216.3L356.7 215.9L357.4 215.9L358.1 215.6L358.8 214.4L359.5 215.9L360.2 215.5L360.9 215L361.6 215.1L362.3 213.9L363 215.6L363.7 214.9L364.4 215.2L365.1 215.8L365.8 214.8L366.5 214.5L367.2 215.8L367.9 215.8L368.6 213.8L369.3 214.8L370 212.2L370.7 215L371.4 215L372.1 212.6L372.8 214.2L373.5 214.1L374.2 213.1L374.9 213.5L375.6 215L376.3 214.8L377 213.5L377.7 214.9L378.4 214.3L379.1 215.4L379.8 214.3L380.5 215.3L381.2 215.1L381.9 214.4L382.6 213.8L383.3 211L384 212.5L384.7 214L385.4 211.7L386.1 214L386.8 212.2L387.5 213.6L388.2 213.7L388.9 214.3L389.6 212.5L390.3 212.2L391 212.1L391.7 212.3L392.4 211.2L393.1 212.7L393.8 211.5L394.5 212.6L395.2 213.1L395.9 214L396.6 213.4L397.3 213.2L398 211.4L398.7 213.3L399.4 212.8L400.1 212.4L400.8 214.6L401.5 213.2L402.2 214.1L402.9 213.8L403.6 212.3L404.3 210.6L405 211.1L405.7 212.5L406.4 213.8L407.1 214.5L407.8 213.4L408.5 213.7L409.2 213L409.9 213L410.6 213.9L411.3 213.7L412 213.8L412.7 212.8L413.4 214.3L414.1 211.4L414.8 214.5L415.5 214.5L416.2 213.1L416.9 213.7L417.6 213.2L418.3 213.8L419 211.7L419.7 215L420.4 213.6L421.1 215.1L421.8 215.7L422.5 214.5L423.2 214.5L423.9 215.7L424.6 212.1L425.3 212.2L426 215.2L426.7 213.2L427.4 211.5L428.1 212.2L428.8 211.9L429.5 213L430.2 214L430.9 209.6L431.6 213.3L432.3 214L433 213.7L433.7 213L434.4 214.2L435.1 211.6L435.8 214.3L436.5 214.9L437.2 213.9L437.9 215.4L438.6 215.2L439.3 213.9L440 214.7L440.7 215L441.4 214.6L442.1 214.3L442.8 213.6L443.5 214.1L444.2 213L444.9 213.3L445.6 213.6L446.3 213.6L447 214.3L447.7 212.8L448.4 214.6L449.1 210.8L449.8 214.7L450.5 213.6L451.2 212.9L451.9 213.5L452.6 215.3L453.3 214.1L454 215.3L454.7 214.7L455.4 213.4L456.1 215L456.8 213.9L457.5 215.4L458.2 215.8L458.9 214.9L459.6 216L460.3 216.3L461 215.7L461.7 215.7L462.4 213.9L463.1 216.1L463.8 215.5L464.5 215.4L465.2 214.9L465.9 215.6L466.6 213.8L467.3 216.1L468 215.6L468.7 212.9L469.4 214.5L470.1 214.8L470.8 212L471.5 215.2L472.2 216.1L472.9 214.4L473.6 214.3L474.3 215.7L475 215.5L475.7 214.9L476.4 214.5L477.1 215.8L477.8 213.4L478.5 215.1L479.2 215.8L479.9 214.8L480.6 214.8L481.3 216.1L482 215.5L482.7 216.5L483.4 215.5L484.1 214.8L484.8 215.3L485.5 214.5L486.2 213.7L486.9 215.9L487.6 214.8L488.3 219.2L489 221.3L489.7 218.4L490.4 219.5L491.1 221.2L491.8 221L492.5 218.4L493.2 217.9L493.9 220.3L494.6 219.3L495.3 219.5L496 219.6L496.7 217.9L497.4 216.9L498.1 219.3L498.8 219.6L499.5 218.5L500.2 218.2L500.9 218.9L501.6 218.5L502.3 218.1L503 217.5L503.7 218.1L504.4 217.6L505.1 217.6L505.8 215.7L506.5 215.1L507.2 217.9L507.9 215.2L508.6 217.1L509.3 216.7L510 216.1L510.7 215.9L511.4 216.7L512.1 216.2L512.8 216.7L513.5 216.4L514.2 216.3L514.9 215L515.6 215.4L516.3 216.2L517 216.8L517.7 214.7L518.4 215.2L519.1 214L519.8 213.7L520.5 216.3L521.2 214.1L521.9 213.3L522.6 214.5L523.3 214.5L524 214.4L524.7 215.1L525.4 215.1L526.1 214.3L526.8 214.8L527.5 215.7L528.2 213.1L528.9 215.7L529.6 215.9L530.3 215.9L531 216L531.7 214.9L532.4 211.7L533.1 214.5L533.8 215.7L534.5 214L535.2 215.1L535.9 215.8L536.6 214.8L537.3 215.5L538 215.8L538.7 215L539.4 212.5L540.1 214.5L540.8 214L541.5 214.3L542.2 214.1L542.9 214.3L543.6 214.4L544.3 214.2L545 214.5L545.7 211.9L546.4 214.1L547.1 214.3L547.8 215.2L548.5 214.9L549.2 214.5L549.9 214.9L550.6 215.4L551.3 214.5L552 215.5L552.7 212.4L553.4 214.5L554.1 213.8L554.8 212.5L555.5 214.4L556.2 212.3L556.9 214.6L557.6 214.6L558.3 214.5L559 214.3L559.7 214.5L560.4 214.3L561.1 211.8L561.8 213L562.5 212.3L563.2 213.5L563.9 213.7L564.6 213.8L565.3 213.3L566 214.7L566.7 212.7L567.4 212L568.1 214.4L568.8 215L569.5 215.8L570.2 215L570.9 216L571.6 214L572.3 215.5L573 215.2L573.7 214.7L574.4 214.3L575.1 210.6L575.8 214L576.5 213.7L577.2 214.2L577.9 215.7L578.6 214.1L579.3 216L580 215.3L580.7 211.7L581.4 214L582.1 212.4L582.8 214.1L583.5 212.1L584.2 215.2L584.9 214.2L585.6 214.5L586.3 213.6L587 214.3L587.7 210.7L588.4 214.2L589.1 215.7L589.8 213.3L590.5 215.2L591.2 214.2L591.9 213.1L592.6 214.7L593.3 213.5L594 212.9L594.7 212.8L595.4 214.1L596.1 215.1L596.8 213.7L597.5 214.9L598.2 213.6L598.9 212.9L599.6 212.9L600.3 213.6L601 214.6L601.7 212.4L602.4 214.9L603.1 214.8L603.8 215.3L604.5 214.4L605.2 213.9L605.9 213.2L606.6 215.1L607.3 215.2L608 214.2L608.7 214.6L609.4 213.1L610.1 210.8L610.8 214.7L611.5 214L612.2 213.8L612.9 214.4L613.6 214.4L614.3 215L615 213.8L615.7 212.3L616.4 214.2L617.1 214.5L617.8 215.1L618.5 214.4L619.2 213.2L619.9 213L620.6 214.1L621.3 213.1L622 211.4L622.7 214L623.4 213.7L624.1 213L624.8 213L625.5 212.7L626.2 213.5L626.9 212.5L627.6 213.4L628.3 212.1L629 212.8L629.7 214L630.4 214.6L631.1 213.1L631.8 214.4L632.5 214.4L633.2 213.1L633.9 213L634.6 210.6L635.3 213.8L636 214.7L636.7 214.6L637.4 212.9L638.1 211.3L638.8 214.6L639.5 213.7L640.2 214.6L640.9 212.9L641.6 214.3L642.3 213.8L643 213.4L643.7 212.3L644.4 213.7L645.1 213.9L645.8 213.3L646.5 212L647.2 214.1L647.9 214L648.6 213.1L649.3 210.3L650 213.4L650.7 212.7L651.4 210.5L652.1 213.9L652.8 212.5L653.5 213.1L654.2 210.1L654.9 212L655.6 213L656.3 213L657 210.6L657.7 213.2L658.4 213.2L659.1 212.7L659.8 212.9L660.5 212.4L661.2 215.1L661.9 214.6L662.6 213.7L663.3 215.2L664 212.7L664.7 214.8L665.4 213.7L666.1 214.2L666.8 214.6L667.5 214.6L668.2 214.9L668.9 213.9L669.6 212.4L670.3 213.5L671 212.8L671.7 211.8L672.4 214.3L673.1 212.9L673.8 214.2L674.5 214.3L675.2 212.5L675.9 214.4L676.6 213.4L677.3 212.3L678 212.8L678.7 212.7L679.4 211.6L680.1 213.2L680.8 214L681.5 214.6L682.2 213.3L682.9 214.7L683.6 213.6L684.3 215L685 214.6L685.7 215.4L686.4 211.7L687.1 213.7L687.8 213.9L688.5 212.4L689.2 214.2L689.9 212.5L690.6 210.2L691.3 212.9L692 214L692.7 212.4L693.4 213L694.1 211.5L694.8 213.9L695.5 215.1L696.2 212.9L696.9 214.1L697.6 214.2L698.3 213.8L699 213.4L699.7 211.4L700.4 213.9L701.1 214.2L701.8 212.6L702.5 213.5L703.2 211.5L703.9 213.8L704.6 214.3L705.3 212.3L706 214.1L706.7 212.5L707.4 213.6L708.1 213.3L708.8 210.6L709.5 213.9L710.2 214.5L710.9 213.7L711.6 211.8L712.3 213.2L713 214.2L713.7 214.7L714.4 215.3L715.1 212.7L715.8 213.5L716.5 214.3L717.2 213.8L717.9 214.1L718.6 215L719.3 214.6L720 213.2L720.7 215L721.4 212.3L722.1 213.8L722.8 215.3L723.5 214.3L724.2 212.3L724.9 213.6L725.6 215.9L726.3 216L727 214.9L727.7 215.2L728.4 216.2L729.1 215.9L729.8 212.9L730.5 212.8L731.2 214.6L731.9 213.8L732.6 213.5L733.3 214.6L734 214.4L734.7 213.9L735.4 214.5L736.1 215.9L736.8 215.7L737.5 215.7L738.2 212.7L738.9 214.6L739.6 214.4L740.3 214.2L741 215.2L741.7 215.4L742.4 215.5L743.1 212.8L743.8 211.7L744.5 215.5L745.2 215L745.9 213.9L746.6 214.5L747.3 212.1L748 212.9L748.7 213.9L749.4 214.5L750.1 213L750.8 214.6L751.5 214.5L752.2 214.5L752.9 214.5L753.6 215.1L754.3 211.8L755 214.7L755.7 215.2L756.4 213L757.1 214.2L757.8 212.7L758.5 214L759.2 214.5L759.9 214.8L760.6 214.2L761.3 214.9L762 212.7L762.7 212L763.4 214.4L763.4 220L762.7 220.5L762 224.4L761.3 222L760.6 220.6L759.9 221.7L759.2 223.7L758.5 220.7L757.8 221L757.1 220L756.4 220.4L755.7 223.6L755 221.8L754.3 220.4L753.6 220.2L752.9 221.7L752.2 220.4L751.5 225.1L750.8 221.7L750.1 220.4L749.4 221.2L748.7 221.1L748 222.3L747.3 221.5L746.6 220.1L745.9 221.9L745.2 222L744.5 220.9L743.8 222.4L743.1 222.7L742.4 222.4L741.7 222L741 222.8L740.3 222.6L739.6 220.7L738.9 223L738.2 222.8L737.5 221L736.8 223L736.1 221.8L735.4 222.8L734.7 222.5L734 222L733.3 223.8L732.6 222.2L731.9 224.3L731.2 221.4L730.5 220.7L729.8 221.9L729.1 223L728.4 222L727.7 221.9L727 223L726.3 221L725.6 221.2L724.9 221.7L724.2 221.6L723.5 221.4L722.8 220.8L722.1 224L721.4 222.9L720.7 221.8L720 223L719.3 221.4L718.6 220.8L717.9 220.5L717.2 223L716.5 222.3L715.8 222.1L715.1 222.2L714.4 221L713.7 223.6L713 221.8L712.3 221.7L711.6 219.8L710.9 221.7L710.2 220.6L709.5 220.9L708.8 220.8L708.1 220.6L707.4 223.2L706.7 222.3L706 223.8L705.3 220.8L704.6 220.2L703.9 219.5L703.2 221L702.5 220L701.8 219.4L701.1 220.4L700.4 219.9L699.7 220.5L699 220.7L698.3 224.5L697.6 219.8L696.9 220.5L696.2 220.1L695.5 221.5L694.8 222.7L694.1 221.2L693.4 221.3L692.7 219.9L692 220.1L691.3 219.9L690.6 219.3L689.9 219.5L689.2 220.3L688.5 223.9L687.8 222L687.1 221.7L686.4 220.5L685.7 223.1L685 223.4L684.3 220.7L683.6 222.1L682.9 220.2L682.2 221.5L681.5 224.8L680.8 220L680.1 224.2L679.4 220.6L678.7 221.6L678 223.4L677.3 219.9L676.6 225.7L675.9 221.8L675.2 222.7L674.5 221.4L673.8 220.2L673.1 222.2L672.4 222.3L671.7 222.6L671 219.9L670.3 220.4L669.6 222L668.9 224.4L668.2 220.4L667.5 220.9L666.8 222.6L666.1 221.7L665.4 221.1L664.7 221.1L664 224.4L663.3 220.8L662.6 221.5L661.9 221.7L661.2 221.9L660.5 223.8L659.8 222.3L659.1 221.5L658.4 219.9L657.7 219.2L657 222.4L656.3 219.2L655.6 219.7L654.9 221.6L654.2 219.9L653.5 222.5L652.8 219.8L652.1 219.6L651.4 219.3L650.7 223.2L650 219.4L649.3 222.3L648.6 222.7L647.9 219.1L647.2 220.8L646.5 221.1L645.8 219.1L645.1 220.2L644.4 219.6L643.7 221.5L643 220.2L642.3 221L641.6 221.1L640.9 219.6L640.2 221L639.5 220L638.8 222.8L638.1 220.4L637.4 222.5L636.7 220.4L636 221.7L635.3 220.6L634.6 220.3L633.9 222.5L633.2 220.7L632.5 220.6L631.8 219.7L631.1 220.7L630.4 221.2L629.7 220L629 222L628.3 221.5L627.6 221.5L626.9 221.5L626.2 219.5L625.5 222.7L624.8 221.3L624.1 220.4L623.4 219L622.7 221L622 222.7L621.3 220.8L620.6 220.4L619.9 221.4L619.2 220.1L618.5 220.8L617.8 222.2L617.1 227L616.4 222.2L615.7 221.8L615 221.6L614.3 221.4L613.6 220.9L612.9 222.8L612.2 219.9L611.5 220.9L610.8 220.9L610.1 220.3L609.4 220.8L608.7 220.5L608 220.5L607.3 221.9L606.6 220.5L605.9 221.2L605.2 221.7L604.5 221.2L603.8 223.3L603.1 222.2L602.4 221.8L601.7 220.6L601 221.3L600.3 221.7L599.6 222.5L598.9 223.6L598.2 221L597.5 222.8L596.8 222.5L596.1 223.3L595.4 221.5L594.7 221.3L594 222.1L593.3 222.7L592.6 221.8L591.9 223.5L591.2 222.9L590.5 222.9L589.8 221.9L589.1 221.4L588.4 220.9L587.7 221.6L587 222.3L586.3 222.1L585.6 224.5L584.9 220.8L584.2 221.4L583.5 221.9L582.8 224.3L582.1 223.7L581.4 223L580.7 222.9L580 221.6L579.3 221.7L578.6 222L577.9 221L577.2 222.4L576.5 222.1L575.8 220.4L575.1 222.8L574.4 220.8L573.7 221L573 222.5L572.3 224.2L571.6 221.5L570.9 223.4L570.2 224.7L569.5 222.3L568.8 222L568.1 221.5L567.4 223.5L566.7 220.7L566 221.6L565.3 223.6L564.6 221.6L563.9 219.4L563.2 220.9L562.5 219L561.8 221.3L561.1 219.9L560.4 220L559.7 219.9L559 220L558.3 220.1L557.6 219.9L556.9 220.6L556.2 220.9L555.5 221.4L554.8 220.2L554.1 223.1L553.4 221.8L552.7 220.8L552 220.5L551.3 221L550.6 222L549.9 221.1L549.2 223.6L548.5 221.4L547.8 221.6L547.1 223.3L546.4 224.4L545.7 221.7L545 221.5L544.3 223.2L543.6 220.6L542.9 222.4L542.2 221L541.5 223.1L540.8 219.9L540.1 222L539.4 221.7L538.7 220.4L538 224.3L537.3 221.9L536.6 221.1L535.9 223.4L535.2 221.5L534.5 221.4L533.8 222.6L533.1 221.3L532.4 222.5L531.7 224.2L531 221.5L530.3 224.2L529.6 221.7L528.9 221.4L528.2 221.4L527.5 223.2L526.8 222.5L526.1 224L525.4 222.2L524.7 222.6L524 222.7L523.3 221.6L522.6 223.9L521.9 223.3L521.2 221.5L520.5 221.6L519.8 224.2L519.1 222L518.4 223.2L517.7 222.4L517 223L516.3 222.5L515.6 222.9L514.9 222.7L514.2 222.6L513.5 223.4L512.8 224.6L512.1 221.8L511.4 225.7L510.7 223.6L510 225L509.3 225.5L508.6 223.9L507.9 223.1L507.2 225.7L506.5 223.2L505.8 223.3L505.1 223.9L504.4 224.3L503.7 224.1L503 226.5L502.3 223.8L501.6 224.9L500.9 226.1L500.2 224.8L499.5 225L498.8 224.9L498.1 225.9L497.4 225L496.7 225.3L496 226L495.3 226.5L494.6 226L493.9 229.1L493.2 228.7L492.5 227.8L491.8 230.9L491.1 226.8L490.4 227.3L489.7 226.7L489 231.3L488.3 226.2L487.6 224.5L486.9 224.1L486.2 221.6L485.5 221.6L484.8 223.6L484.1 222.8L483.4 221.5L482.7 224.8L482 221.8L481.3 224.1L480.6 222.4L479.9 222.4L479.2 221.1L478.5 221.3L477.8 221.2L477.1 224.4L476.4 221.4L475.7 224.9L475 221.6L474.3 221.5L473.6 223L472.9 223.1L472.2 221.9L471.5 223.7L470.8 221.9L470.1 222.5L469.4 221L468.7 222.1L468 221L467.3 222.4L466.6 222.1L465.9 223.7L465.2 224.4L464.5 221.4L463.8 222.9L463.1 224.6L462.4 223.6L461.7 222.5L461 222.7L460.3 223.9L459.6 223.3L458.9 221.3L458.2 224.7L457.5 221.7L456.8 223.7L456.1 222.5L455.4 223.8L454.7 223.1L454 222.7L453.3 221.5L452.6 223.3L451.9 221.9L451.2 221L450.5 221.1L449.8 222.7L449.1 221L448.4 220.6L447.7 221.1L447 221.2L446.3 222.2L445.6 219.5L444.9 219.7L444.2 221.4L443.5 220.6L442.8 220.7L442.1 221.5L441.4 221.1L440.7 222.1L440 220.9L439.3 221.9L438.6 220.9L437.9 222L437.2 220.8L436.5 221.2L435.8 220.1L435.1 221.7L434.4 220.5L433.7 221.2L433 219.8L432.3 219.7L431.6 221L430.9 219.6L430.2 221.5L429.5 220.6L428.8 219.7L428.1 220.3L427.4 221.2L426.7 221.5L426 223L425.3 221.1L424.6 221.9L423.9 223.6L423.2 221.9L422.5 220.9L421.8 222.1L421.1 221.3L420.4 220.2L419.7 221.4L419 221.3L418.3 220.2L417.6 220.7L416.9 219.6L416.2 220.4L415.5 221.7L414.8 221.4L414.1 220L413.4 220.2L412.7 220.8L412 221.6L411.3 219.2L410.6 218.8L409.9 219.1L409.2 219.4L408.5 220.3L407.8 219.4L407.1 220.9L406.4 220.1L405.7 220.9L405 223.2L404.3 220.1L403.6 222.1L402.9 223.1L402.2 220.9L401.5 221.6L400.8 223.4L400.1 219.7L399.4 220.5L398.7 221L398 223L397.3 221.6L396.6 222.3L395.9 222.6L395.2 221.8L394.5 220.2L393.8 222.3L393.1 219.4L392.4 223L391.7 220.2L391 221.2L390.3 223.4L389.6 221.2L388.9 220.2L388.2 220.4L387.5 224.4L386.8 220.4L386.1 219.3L385.4 219.4L384.7 220.2L384 220.5L383.3 220.6L382.6 221.4L381.9 221.5L381.2 220.6L380.5 222.5L379.8 221.1L379.1 224.8L378.4 221.9L377.7 221.2L377 225.1L376.3 221.5L375.6 221.3L374.9 225.1L374.2 221.5L373.5 220.5L372.8 221.8L372.1 220.5L371.4 222.2L370.7 223.5L370 221.9L369.3 224.5L368.6 222.3L367.9 222.2L367.2 220.9L366.5 222.2L365.8 222.6L365.1 221.7L364.4 221.6L363.7 221.8L363 222.2L362.3 223.8L361.6 224.6L360.9 221.1L360.2 221L359.5 223L358.8 223.4L358.1 221.4L357.4 222.5L356.7 222.8L356 224L355.3 223.8L354.6 223.4L353.9 222L353.2 223.8L352.5 226.5L351.8 223L351.1 224L350.4 224.2L349.7 225.7L349 227.6L348.3 226.2L347.6 225.2L346.9 226.2L346.2 225.9L345.5 226.5L344.8 228.9L344.1 228L343.4 228.5L342.7 226.6L342 226.8L341.3 227L340.6 228.5L339.9 229.9L339.2 230L338.5 227.6L337.8 229.1L337.1 226.2L336.4 226L335.7 226L335 224.7L334.3 222.7L333.6 223.4L332.9 223.8L332.2 224.5L331.5 222.3L330.8 220.1L330.1 220.6L329.4 221.8L328.7 221.8L328 222.7L327.3 219.8L326.6 222.6L325.9 222.6L325.2 220.1L324.5 220.5L323.8 221.4L323.1 220.2L322.4 221.4L321.7 222L321 220.3L320.3 220.4L319.6 221.8L318.9 219.8L318.2 220.6L317.5 223.5L316.8 220.4L316.1 220.9L315.4 222.1L314.7 220.7L314 221.2L313.3 220.5L312.6 222.3L311.9 222.5L311.2 222.4L310.5 220.1L309.8 220.1L309.1 220.9L308.4 220.8L307.7 220.6L307 221.3L306.3 221.4L305.6 220.1L304.9 222L304.2 221.4L303.5 220L302.8 220.4L302.1 221.2L301.4 223.4L300.7 220.5L300 221.2L299.3 222.3L298.6 220.4L297.9 221.4L297.2 220L296.5 220.7L295.8 221L295.1 220.3L294.4 220L293.7 223.7L293 220.7L292.3 220.8L291.6 221.5L290.9 220.8L290.2 222.4L289.5 221.7L288.8 221.4L288.1 223.8L287.4 223L286.7 223.4L286 221.7L285.3 223.3L284.6 223L283.9 221L283.2 222L282.5 222.2L281.8 220.2L281.1 221.1L280.4 220.8L279.7 223.2L279 222.1L278.3 220.4L277.6 222L276.9 222L276.2 220L275.5 220L274.8 221.3L274.1 219.4L273.4 221.1L272.7 221.7L272 224.1L271.3 219.9L270.6 220.9L269.9 221L269.2 221.2L268.5 221.9L267.8 219.1L267.1 219L266.4 219.6L265.7 219.9L265 220.9L264.3 220.5L263.6 220.4L262.9 221.6L262.2 219.7L261.5 219.4L260.8 219.9L260.1 221.1L259.4 220.4L258.7 220.5L258 222.9L257.3 220.7L256.6 220.1L255.9 220.2L255.2 221.4L254.5 219.5L253.8 219.8L253.1 222.2L252.4 221.5L251.7 219.8L251 219.3L250.3 220.3L249.6 219L248.9 219.1L248.2 219.1L247.5 218.6L246.8 218.6L246.1 219L245.4 221.3L244.7 220.1L244 220.2L243.3 219.5L242.6 221.5L241.9 219.5L241.2 219.1L240.5 219.8L239.8 222.3L239.1 220.2L238.4 222L237.7 223L237 219.7L236.3 221L235.6 221.3L234.9 221.3L234.2 222.2L233.5 223.4L232.8 222.9L232.1 220L231.4 223.3L230.7 219.6L230 220.3L229.3 221.6L228.6 220.8L227.9 219.8L227.2 221L226.5 222.2L225.8 221.3L225.1 220L224.4 224.4L223.7 221.4L223 220.2L222.3 220.2L221.6 222.9L220.9 225.3L220.2 223L219.5 223.4L218.8 223.4L218.1 224.2L217.4 222.6L216.7 223.5L216 222.5L215.3 225.8L214.6 222.6L213.9 222.9L213.2 222.9L212.5 223.8L211.8 222.2L211.1 225.9L210.4 222.8L209.7 222.2L209 223.9L208.3 222.7L207.6 225L206.9 223L206.2 225.7L205.5 225.1L204.8 224.5L204.1 223.5L203.4 224.8L202.7 226.4L202 227.2L201.3 227.9L200.6 224.9L199.9 224.7L199.2 225.3L198.5 225.9L197.8 224.9L197.1 226.3L196.4 225.8L195.7 226.5L195 225.7L194.3 228.4L193.6 226.3L192.9 226.6L192.2 228.8L191.5 230.1L190.8 228.9L190.1 229L189.4 227L188.7 228.7L188 229.7L187.3 228.5L186.6 229.5L185.9 231.4L185.2 229.9L184.5 230.8L183.8 231.9L183.1 229.8L182.4 229.8L181.7 228.9L181 228.6L180.3 228.8L179.6 228.5L178.9 232.9L178.2 228.5L177.5 227.8L176.8 227.5L176.1 227.3L175.4 225.4L174.7 222L174 219.4L173.3 213.7L172.6 211.6L171.9 208.5L171.2 208.4L170.5 206.2L169.8 204.8L169.1 208.7L168.4 214L167.7 220L167 223.5L166.3 225.6L165.6 226.7L164.9 224.4L164.2 224.8L163.5 225.5L162.8 226.4L162.1 227L161.4 225.8L160.7 226.2L160 227.6L159.3 226L158.6 225.8L157.9 225L157.2 225.5L156.5 225.2L155.8 225.5L155.1 224.2L154.4 225.4L153.7 224.6L153 225.3L152.3 223.6L151.6 223.9L150.9 223.1L150.2 223.1L149.5 223.5L148.8 222.7L148.1 225.7L147.4 223.7L146.7 223.8L146 222.2L145.3 222.6L144.6 221.8L143.9 221.9L143.2 221.5L142.5 224L141.8 222.8L141.1 221.8L140.4 223.1L139.7 223.2L139 222L138.3 222.4L137.6 221.4L136.9 221.5L136.2 222.2L135.5 222.1L134.8 222L134.1 222L133.4 223.5L132.7 224.8L132 226.4L131.3 224.4L130.6 221.6L129.9 224.2L129.2 222.6L128.5 222.2L127.8 221.8L127.1 222.3L126.4 225.6L125.7 223.2L125 222.7L124.3 222.1L123.6 222.4L122.9 220.5L122.2 221.6L121.5 220.1L120.8 220.1L120.1 221.2L119.4 220.2L118.7 220.6L118 220.4L117.3 221.5L116.6 220.5L115.9 222.4L115.2 220.9L114.5 220.6L113.8 220.5L113.1 221.3L112.4 224.6L111.7 220L111 221.2L110.3 220.6L109.6 220.3L108.9 224.3L108.2 220.1L107.5 222.1L106.8 222.6L106.1 223.4L105.4 224L104.7 222L104 224L103.3 223.2L102.6 221.8L101.9 221.2L101.2 224.8L100.5 222.6L99.8 223L99.1 222.9L98.4 221.4L97.7 221.4L97 221.2L96.3 220.4L95.6 219.8L94.9 222.2L94.2 221.8L93.5 220.5L92.8 222.3L92.1 220.5L91.4 220.3L90.7 220.5L90 220.5L89.3 222.3L88.6 220.2L87.9 220.6L87.2 220.1L86.5 221.5L85.8 218.9L85.1 219.1L84.4 221.8L83.7 222.1L83 219.4L82.3 221.7L81.6 223.7L80.9 220.3L80.2 220.2L79.5 219.8L78.8 220.6L78.1 223.3L77.4 223.1L76.7 222.6L76 223.5L75.3 221.6Z" fill="#ed1c24" stroke="#ed1c24" stroke-width="0.3" stroke-linejoin="round"/>
<path d="M167.6 219L168.4 205L169.4 187.8L170.4 191.5L171.5 195.4L173 199.2L174.5 202.6L175.4 209L176.1 215.9L177.1 222L177.6 225.5L174.5 225.3L173 219.5L172 214L171 210L169.9 210.8L168.8 214.5L167.9 219.5Z" fill="#ed1c24" stroke="#ed1c24" stroke-width="0.5" stroke-linejoin="round"/>
<path d="M176.8 200.2L176.9 222" fill="none" stroke="#ed1c24" stroke-width="0.8" stroke-opacity="0.75"/>
<path d="M85.7 187L85.9 216.4M93.5 188.5L93.7 217.3M98.9 188L99.1 218.2M101 186.8L101.2 218.4M104 191L104.2 218.9M106.8 190.5L107 218M109.4 186L109.6 217.3M112.9 188L113.1 217.7M118.6 189L118.8 217.5M125.9 189.5L126.1 218.6M128.7 188.5L128.8 218.9M131 192L131.2 218.8M133.4 189.5L133.6 218.7M138.5 189L138.7 218.5M151.6 198L151.8 220.3M153.2 191.1L153.3 220.6M155.3 195.2L155.5 221.1M158.8 189.1L159 222.9M255.3 186L255.5 217M258.3 185.5L258.4 217.3M272.4 185L272.5 216.2M274.5 188L274.6 217.1M279.2 191L279.3 217.3M297.9 186.3L298 217M302 190.2L302.1 217.4M308 189.8L308.1 217.1M317 193.8L317.1 217.2M319.7 191.8L319.8 217.4M321.6 191.1L321.8 217.7M419.9 184L420 217.5M438.6 185L438.8 218.1M441.4 188.4L441.5 217.6M443.4 188.4L443.5 217.1M445.4 185L445.5 216.9M448.4 185.7L448.5 217.3M464.5 186.3L464.6 218.5M467.5 189L467.6 218.5M470.5 191L470.6 218.5M475.7 189.8L475.8 219.1M556.2 184.5L556.4 216.9M581.3 189L581.4 218.7M584.4 185.5L584.5 218.4M637 185.5L637.1 217.1M638.6 188L638.8 217.2M641.4 190L641.5 216.8M643.3 191L643.4 216.4M645.7 190L645.9 216.5M712.6 184.5L712.8 217.2M716.5 189L716.6 217.7M733.7 190.5L733.9 218.3M737.9 188L738 218.2M740 189.5L740.1 218" fill="none" stroke="#ed1c24" stroke-width="0.9" stroke-opacity="0.9"/>
<path d="M321.8 192.5L322.5 194.3L323.2 192.8L323.9 195L324.6 194.2L325.3 197.8L326 195.5L326.7 198.1L327.4 196.8L328.1 198.4L328.8 197.8L329.5 198.9L330.2 198.7L330.9 199.9L331.6 198.3L332.3 199L333 196.7L333.6 197L333.8 218L321.6 218ZM475.9 194.5L476.6 197.7L477.3 194.8L478 197.5L478.7 195.5L479.4 199.9L480.1 196.6L480.8 200.7L481.5 197.6L482.2 201.8L482.9 198.6L483.6 201.5L484.3 199.5L485 202.3L485.7 199.5L486 199.3L486.2 218L475.7 218Z" fill="#ed1c24" stroke="#ed1c24" stroke-width="0.3"/>
<line x1="74.7" y1="154.9" x2="74.7" y2="253" stroke="#151515" stroke-width="1.4"/>
<line x1="74.7" y1="252.4" x2="761" y2="252.4" stroke="#151515" stroke-width="1.3"/>
<line x1="74.7" y1="155.6" x2="82.8" y2="155.6" stroke="#151515" stroke-width="1.4"/>
<line x1="74.7" y1="179.6" x2="82.8" y2="179.6" stroke="#151515" stroke-width="1.4"/>
<line x1="74.7" y1="204.1" x2="82.8" y2="204.1" stroke="#151515" stroke-width="1.4"/>
<line x1="74.7" y1="228.7" x2="82.8" y2="228.7" stroke="#151515" stroke-width="1.4"/>
<text transform="translate(44.5 162.3) scale(0.93 1)" font-size="15.2" text-anchor="start" fill="#231f20" font-weight="normal" stroke="#231f20" stroke-width="0.3">1.5</text>
<text transform="translate(49.7 187) scale(0.93 1)" font-size="15.2" text-anchor="start" fill="#231f20" font-weight="normal" stroke="#231f20" stroke-width="0.3">1</text>
<text transform="translate(45.3 211.2) scale(0.93 1)" font-size="15.2" text-anchor="start" fill="#231f20" font-weight="normal" stroke="#231f20" stroke-width="0.3">0.5</text>
<text transform="translate(49.6 236.1) scale(0.93 1)" font-size="15.2" text-anchor="start" fill="#231f20" font-weight="normal" stroke="#231f20" stroke-width="0.3">0</text>
<text transform="translate(42.8 260.3) scale(0.93 1)" font-size="15.2" text-anchor="start" fill="#231f20" font-weight="normal" stroke="#231f20" stroke-width="0.3">-0.5</text>
<text transform="translate(33 196) rotate(-90)" font-size="16.7" text-anchor="middle" fill="#231f20" stroke="#231f20" stroke-width="0.3">mV</text>
<rect x="162.2" y="242.6" width="4.5" height="9.8" fill="#231f20"/>
<rect x="314.6" y="242.6" width="4.5" height="9.8" fill="#231f20"/>
<rect x="466.4" y="242.6" width="4.5" height="9.8" fill="#231f20"/>
<rect x="621.8" y="242.6" width="4.5" height="9.8" fill="#231f20"/>
<line x1="721.8" y1="261.2" x2="759.3" y2="261.2" stroke="#151515" stroke-width="1.3"/>
<text x="715.2" y="279.7" font-size="14.85" text-anchor="start" fill="#231f20" font-weight="normal" stroke="#231f20" stroke-width="0.3">500 ms</text>
<text x="1.9" y="305.9" font-size="16.5" text-anchor="start" fill="#000" font-weight="bold" stroke="#000" stroke-width="0.45">C</text>
<line x1="73.1" y1="311.8" x2="73.1" y2="558.8" stroke="#151515" stroke-width="1.4"/>
<line x1="72.5" y1="558.2" x2="384.3" y2="558.2" stroke="#151515" stroke-width="1.4"/>
<line x1="73.1" y1="522.5" x2="75.7" y2="522.5" stroke="#151515" stroke-width="1.2"/>
<line x1="73.1" y1="487.4" x2="75.7" y2="487.4" stroke="#151515" stroke-width="1.2"/>
<line x1="73.1" y1="452.3" x2="75.7" y2="452.3" stroke="#151515" stroke-width="1.2"/>
<line x1="73.1" y1="417.2" x2="75.7" y2="417.2" stroke="#151515" stroke-width="1.2"/>
<line x1="73.1" y1="382.1" x2="75.7" y2="382.1" stroke="#151515" stroke-width="1.2"/>
<line x1="73.1" y1="347" x2="75.7" y2="347" stroke="#151515" stroke-width="1.2"/>
<line x1="73.1" y1="311.9" x2="75.7" y2="311.9" stroke="#151515" stroke-width="1.2"/>
<text transform="translate(58.8 565.1) scale(0.93 1)" font-size="15.6" text-anchor="middle" fill="#231f20" font-weight="normal" stroke="#231f20" stroke-width="0.3">0</text>
<text transform="translate(58.8 529.1) scale(0.93 1)" font-size="15.6" text-anchor="middle" fill="#231f20" font-weight="normal" stroke="#231f20" stroke-width="0.3">20</text>
<text transform="translate(58.8 494) scale(0.93 1)" font-size="15.6" text-anchor="middle" fill="#231f20" font-weight="normal" stroke="#231f20" stroke-width="0.3">40</text>
<text transform="translate(58.8 458.9) scale(0.93 1)" font-size="15.6" text-anchor="middle" fill="#231f20" font-weight="normal" stroke="#231f20" stroke-width="0.3">60</text>
<text transform="translate(58.8 423.8) scale(0.93 1)" font-size="15.6" text-anchor="middle" fill="#231f20" font-weight="normal" stroke="#231f20" stroke-width="0.3">80</text>
<text transform="translate(58.8 388.7) scale(0.93 1)" font-size="15.6" text-anchor="middle" fill="#231f20" font-weight="normal" stroke="#231f20" stroke-width="0.3">100</text>
<text transform="translate(58.8 353.6) scale(0.93 1)" font-size="15.6" text-anchor="middle" fill="#231f20" font-weight="normal" stroke="#231f20" stroke-width="0.3">120</text>
<text transform="translate(58.8 318.5) scale(0.93 1)" font-size="15.6" text-anchor="middle" fill="#231f20" font-weight="normal" stroke="#231f20" stroke-width="0.3">140</text>
<rect x="93.7" y="396.6" width="50.2" height="161.5" fill="#000"/>
<rect x="144.4" y="397.9" width="49.5" height="160.2" fill="#ed1c24" stroke="#3a1012" stroke-width="1"/>
<line x1="119.2" y1="376.3" x2="119.2" y2="397" stroke="#000" stroke-width="1.15"/>
<line x1="117.1" y1="376.3" x2="121.3" y2="376.3" stroke="#000" stroke-width="1.15"/>
<line x1="169" y1="369" x2="169" y2="426.3" stroke="#000" stroke-width="1.15"/>
<line x1="166.9" y1="369" x2="171.1" y2="369" stroke="#000" stroke-width="1.15"/>
<line x1="166.9" y1="426.3" x2="171.1" y2="426.3" stroke="#000" stroke-width="1.15"/>
<rect x="216.9" y="351.3" width="50" height="206.8" fill="#000"/>
<rect x="267.4" y="375.6" width="49.3" height="182.5" fill="#ed1c24" stroke="#3a1012" stroke-width="1"/>
<line x1="242.2" y1="333.5" x2="242.2" y2="352" stroke="#000" stroke-width="1.15"/>
<line x1="240.1" y1="333.5" x2="244.3" y2="333.5" stroke="#000" stroke-width="1.15"/>
<line x1="292" y1="348.7" x2="292" y2="402.1" stroke="#000" stroke-width="1.15"/>
<line x1="289.9" y1="348.7" x2="294.1" y2="348.7" stroke="#000" stroke-width="1.15"/>
<line x1="289.9" y1="402.1" x2="294.1" y2="402.1" stroke="#000" stroke-width="1.15"/>
<text x="132.3" y="583.4" font-size="17.4" text-anchor="middle" fill="#231f20" font-weight="normal" stroke="#231f20" stroke-width="0.3">1 ng</text>
<text x="275.2" y="583.4" font-size="17.4" text-anchor="middle" fill="#231f20" font-weight="normal" stroke="#231f20" stroke-width="0.3">10 ng</text>
<rect x="318.6" y="312.3" width="26.1" height="10.3" fill="#231f20"/>
<rect x="319.1" y="326.9" width="25.2" height="9.4" fill="#ed1c24" stroke="#3a1012" stroke-width="1.0"/>
<text x="350.5" y="317.1" font-size="14.5" text-anchor="start" fill="#231f20" font-weight="normal" stroke="#231f20" stroke-width="0.3">ctr</text>
<text x="350.5" y="334.9" font-size="14.5" text-anchor="start" fill="#231f20" font-weight="normal" stroke="#231f20" stroke-width="0.3">ptx</text>
<text transform="translate(21.2 438.3) rotate(-90)" font-size="14.8" text-anchor="middle" fill="#414042" stroke="#414042" stroke-width="0.3">Mean instantaneous fireing rate</text>
<text transform="translate(37.1 437.3) rotate(-90)" font-size="14.8" text-anchor="middle" fill="#414042" stroke="#414042" stroke-width="0.3">during response</text>
<text x="405.4" y="305.6" font-size="16.2" text-anchor="start" fill="#000" font-weight="bold" stroke="#000" stroke-width="0.45">D</text>
<line x1="455.3" y1="309.9" x2="455.3" y2="556.6" stroke="#151515" stroke-width="1.4"/>
<line x1="454.7" y1="556" x2="767" y2="556" stroke="#151515" stroke-width="1.4"/>
<line x1="455.3" y1="506.5" x2="457.9" y2="506.5" stroke="#151515" stroke-width="1.2"/>
<line x1="455.3" y1="457.5" x2="457.9" y2="457.5" stroke="#151515" stroke-width="1.2"/>
<line x1="455.3" y1="408.5" x2="457.9" y2="408.5" stroke="#151515" stroke-width="1.2"/>
<line x1="455.3" y1="359.5" x2="457.9" y2="359.5" stroke="#151515" stroke-width="1.2"/>
<line x1="455.3" y1="310.5" x2="457.9" y2="310.5" stroke="#151515" stroke-width="1.2"/>
<text x="439.7" y="559.3" font-size="15.4" text-anchor="middle" fill="#231f20" font-weight="normal" stroke="#231f20" stroke-width="0.3">0</text>
<text x="439.7" y="510.3" font-size="15.4" text-anchor="middle" fill="#231f20" font-weight="normal" stroke="#231f20" stroke-width="0.3">5</text>
<text x="439.7" y="461.3" font-size="15.4" text-anchor="middle" fill="#231f20" font-weight="normal" stroke="#231f20" stroke-width="0.3">10</text>
<text x="439.7" y="412.3" font-size="15.4" text-anchor="middle" fill="#231f20" font-weight="normal" stroke="#231f20" stroke-width="0.3">15</text>
<text x="439.7" y="363.3" font-size="15.4" text-anchor="middle" fill="#231f20" font-weight="normal" stroke="#231f20" stroke-width="0.3">20</text>
<text x="439.7" y="314.3" font-size="15.4" text-anchor="middle" fill="#231f20" font-weight="normal" stroke="#231f20" stroke-width="0.3">25</text>
<rect x="475.6" y="441.5" width="49" height="114.5" fill="#000"/>
<rect x="525.1" y="352.6" width="48.3" height="203.4" fill="#ed1c24" stroke="#3a1012" stroke-width="1"/>
<line x1="500.6" y1="412.8" x2="500.6" y2="442" stroke="#000" stroke-width="1.15"/>
<line x1="498.5" y1="412.8" x2="502.7" y2="412.8" stroke="#000" stroke-width="1.15"/>
<line x1="548.8" y1="323.6" x2="548.8" y2="382" stroke="#000" stroke-width="1.15"/>
<line x1="546.7" y1="323.6" x2="550.9" y2="323.6" stroke="#000" stroke-width="1.15"/>
<line x1="546.7" y1="382" x2="550.9" y2="382" stroke="#000" stroke-width="1.15"/>
<rect x="600.5" y="463" width="49" height="93" fill="#000"/>
<rect x="650" y="360.6" width="48.1" height="195.4" fill="#ed1c24" stroke="#3a1012" stroke-width="1"/>
<line x1="624.9" y1="452.6" x2="624.9" y2="463.5" stroke="#000" stroke-width="1.15"/>
<line x1="622.8" y1="452.6" x2="627" y2="452.6" stroke="#000" stroke-width="1.15"/>
<line x1="673.8" y1="322.8" x2="673.8" y2="399.3" stroke="#000" stroke-width="1.15"/>
<line x1="671.7" y1="322.8" x2="675.9" y2="322.8" stroke="#000" stroke-width="1.15"/>
<line x1="671.7" y1="399.3" x2="675.9" y2="399.3" stroke="#000" stroke-width="1.15"/>
<text x="513" y="577.6" font-size="17.3" text-anchor="middle" fill="#231f20" font-weight="normal" stroke="#231f20" stroke-width="0.3">1 ng</text>
<text x="651.2" y="577.6" font-size="17.3" text-anchor="middle" fill="#231f20" font-weight="normal" stroke="#231f20" stroke-width="0.3">10 ng</text>
<text x="513" y="355.3" font-size="24" text-anchor="middle" fill="#231f20" font-weight="bold">**</text>
<text x="642.5" y="355.3" font-size="24" text-anchor="middle" fill="#231f20" font-weight="bold">**</text>
<rect x="699.7" y="305" width="25.2" height="8.8" fill="#1a1a1a"/>
<rect x="699.7" y="321" width="25.2" height="9" fill="#ed1c24"/>
<text x="730.9" y="308.2" font-size="14.5" text-anchor="start" fill="#231f20" font-weight="normal" stroke="#231f20" stroke-width="0.3">ctr</text>
<text x="730.9" y="326.2" font-size="14.5" text-anchor="start" fill="#231f20" font-weight="normal" stroke="#231f20" stroke-width="0.3">ptx</text>
<text transform="translate(418.3 422.6) rotate(-90)" font-size="14.8" text-anchor="middle" fill="#414042" stroke="#414042" stroke-width="0.3">Standard deviation firing rate</text>
</svg></body></html>
